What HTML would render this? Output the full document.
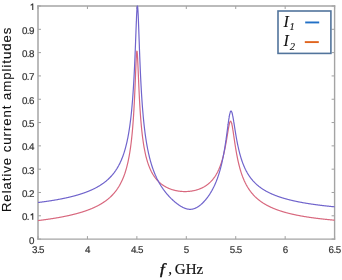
<!DOCTYPE html>
<html><head><meta charset="utf-8"><style>
html,body{margin:0;padding:0;background:#fff;}
body{width:342px;height:280px;overflow:hidden;position:relative;}
svg{position:absolute;left:0;top:0;will-change:transform;filter:blur(0.3px);}
.tk text{text-rendering:geometricPrecision;font-family:"Liberation Sans",sans-serif;font-size:9.8px;fill:#333;letter-spacing:-0.55px;stroke:#333;stroke-width:0.2px;}
</style></head><body>
<svg width="342" height="280" viewBox="0 0 342 280">

<g stroke="#a0a0a0" stroke-width="1"><line x1="38.00" y1="239.1" x2="38.00" y2="236.1"/><line x1="38.00" y1="6.0" x2="38.00" y2="9.0"/><line x1="87.43" y1="239.1" x2="87.43" y2="236.1"/><line x1="87.43" y1="6.0" x2="87.43" y2="9.0"/><line x1="136.87" y1="239.1" x2="136.87" y2="236.1"/><line x1="136.87" y1="6.0" x2="136.87" y2="9.0"/><line x1="186.30" y1="239.1" x2="186.30" y2="236.1"/><line x1="186.30" y1="6.0" x2="186.30" y2="9.0"/><line x1="235.73" y1="239.1" x2="235.73" y2="236.1"/><line x1="235.73" y1="6.0" x2="235.73" y2="9.0"/><line x1="285.17" y1="239.1" x2="285.17" y2="236.1"/><line x1="285.17" y1="6.0" x2="285.17" y2="9.0"/><line x1="334.60" y1="239.1" x2="334.60" y2="236.1"/><line x1="334.60" y1="6.0" x2="334.60" y2="9.0"/><line x1="38.0" y1="239.10" x2="41.0" y2="239.10"/><line x1="334.6" y1="239.10" x2="331.6" y2="239.10"/><line x1="38.0" y1="215.79" x2="41.0" y2="215.79"/><line x1="334.6" y1="215.79" x2="331.6" y2="215.79"/><line x1="38.0" y1="192.48" x2="41.0" y2="192.48"/><line x1="334.6" y1="192.48" x2="331.6" y2="192.48"/><line x1="38.0" y1="169.17" x2="41.0" y2="169.17"/><line x1="334.6" y1="169.17" x2="331.6" y2="169.17"/><line x1="38.0" y1="145.86" x2="41.0" y2="145.86"/><line x1="334.6" y1="145.86" x2="331.6" y2="145.86"/><line x1="38.0" y1="122.55" x2="41.0" y2="122.55"/><line x1="334.6" y1="122.55" x2="331.6" y2="122.55"/><line x1="38.0" y1="99.24" x2="41.0" y2="99.24"/><line x1="334.6" y1="99.24" x2="331.6" y2="99.24"/><line x1="38.0" y1="75.93" x2="41.0" y2="75.93"/><line x1="334.6" y1="75.93" x2="331.6" y2="75.93"/><line x1="38.0" y1="52.62" x2="41.0" y2="52.62"/><line x1="334.6" y1="52.62" x2="331.6" y2="52.62"/><line x1="38.0" y1="29.31" x2="41.0" y2="29.31"/><line x1="334.6" y1="29.31" x2="331.6" y2="29.31"/><line x1="38.0" y1="6.00" x2="41.0" y2="6.00"/><line x1="334.6" y1="6.00" x2="331.6" y2="6.00"/></g>
<g stroke="#a4a4a4" stroke-linecap="square">
<line x1="38.0" y1="6.0" x2="38.0" y2="239.1" stroke-width="1.5"/>
<line x1="38.0" y1="239.1" x2="334.6" y2="239.1" stroke-width="1.25"/>
<line x1="38.0" y1="6.0" x2="334.6" y2="6.0" stroke-width="1.3"/>
<line x1="334.6" y1="6.0" x2="334.6" y2="239.1" stroke-width="1.4"/>
</g>
<g fill="none" stroke-linejoin="round">
<polyline points="38.00,220.57 38.25,220.54 38.49,220.51 38.74,220.48 38.99,220.45 39.24,220.42 39.48,220.39 39.73,220.36 39.98,220.33 40.22,220.29 40.47,220.26 40.72,220.23 40.97,220.20 41.21,220.17 41.46,220.14 41.71,220.11 41.95,220.07 42.20,220.04 42.45,220.01 42.70,219.98 42.94,219.94 43.19,219.91 43.44,219.88 43.68,219.84 43.93,219.81 44.18,219.78 44.43,219.74 44.67,219.71 44.92,219.68 45.17,219.64 45.42,219.61 45.66,219.57 45.91,219.54 46.16,219.51 46.40,219.47 46.65,219.44 46.90,219.40 47.15,219.37 47.39,219.33 47.64,219.29 47.89,219.26 48.13,219.22 48.38,219.19 48.63,219.15 48.88,219.11 49.12,219.08 49.37,219.04 49.62,219.00 49.86,218.97 50.11,218.93 50.36,218.89 50.61,218.86 50.85,218.82 51.10,218.78 51.35,218.74 51.59,218.70 51.84,218.67 52.09,218.63 52.34,218.59 52.58,218.55 52.83,218.51 53.08,218.47 53.32,218.43 53.57,218.39 53.82,218.35 54.07,218.31 54.31,218.27 54.56,218.23 54.81,218.19 55.05,218.15 55.30,218.11 55.55,218.07 55.80,218.03 56.04,217.98 56.29,217.94 56.54,217.90 56.78,217.86 57.03,217.82 57.28,217.77 57.53,217.73 57.77,217.69 58.02,217.64 58.27,217.60 58.51,217.56 58.76,217.51 59.01,217.47 59.26,217.42 59.50,217.38 59.75,217.33 60.00,217.29 60.25,217.24 60.49,217.20 60.74,217.15 60.99,217.11 61.23,217.06 61.48,217.01 61.73,216.97 61.98,216.92 62.22,216.87 62.47,216.82 62.72,216.78 62.96,216.73 63.21,216.68 63.46,216.63 63.71,216.58 63.95,216.53 64.20,216.48 64.45,216.43 64.69,216.38 64.94,216.33 65.19,216.28 65.44,216.23 65.68,216.18 65.93,216.13 66.18,216.08 66.42,216.03 66.67,215.98 66.92,215.92 67.17,215.87 67.41,215.82 67.66,215.76 67.91,215.71 68.15,215.66 68.40,215.60 68.65,215.55 68.90,215.49 69.14,215.44 69.39,215.38 69.64,215.33 69.88,215.27 70.13,215.21 70.38,215.16 70.63,215.10 70.87,215.04 71.12,214.99 71.37,214.93 71.61,214.87 71.86,214.81 72.11,214.75 72.36,214.69 72.60,214.63 72.85,214.57 73.10,214.51 73.34,214.45 73.59,214.39 73.84,214.33 74.09,214.26 74.33,214.20 74.58,214.14 74.83,214.08 75.08,214.01 75.32,213.95 75.57,213.88 75.82,213.82 76.06,213.75 76.31,213.69 76.56,213.62 76.81,213.56 77.05,213.49 77.30,213.42 77.55,213.35 77.79,213.29 78.04,213.22 78.29,213.15 78.54,213.08 78.78,213.01 79.03,212.94 79.28,212.87 79.52,212.80 79.77,212.72 80.02,212.65 80.27,212.58 80.51,212.50 80.76,212.43 81.01,212.36 81.25,212.28 81.50,212.21 81.75,212.13 82.00,212.05 82.24,211.98 82.49,211.90 82.74,211.82 82.98,211.74 83.23,211.66 83.48,211.58 83.73,211.50 83.97,211.42 84.22,211.34 84.47,211.26 84.71,211.18 84.96,211.09 85.21,211.01 85.46,210.92 85.70,210.84 85.95,210.75 86.20,210.67 86.44,210.58 86.69,210.49 86.94,210.40 87.19,210.31 87.43,210.22 87.68,210.13 87.93,210.04 88.17,209.95 88.42,209.86 88.67,209.77 88.92,209.67 89.16,209.58 89.41,209.48 89.66,209.38 89.91,209.29 90.15,209.19 90.40,209.09 90.65,208.99 90.89,208.89 91.14,208.79 91.39,208.69 91.64,208.59 91.88,208.48 92.13,208.38 92.38,208.27 92.62,208.17 92.87,208.06 93.12,207.95 93.37,207.84 93.61,207.73 93.86,207.62 94.11,207.51 94.35,207.40 94.60,207.28 94.85,207.17 95.10,207.05 95.34,206.94 95.59,206.82 95.84,206.70 96.08,206.58 96.33,206.46 96.58,206.33 96.83,206.21 97.07,206.09 97.32,205.96 97.57,205.83 97.81,205.71 98.06,205.58 98.31,205.44 98.56,205.31 98.80,205.18 99.05,205.04 99.30,204.91 99.54,204.77 99.79,204.63 100.04,204.49 100.29,204.35 100.53,204.21 100.78,204.06 101.03,203.92 101.27,203.77 101.52,203.62 101.77,203.47 102.02,203.32 102.26,203.17 102.51,203.01 102.76,202.85 103.00,202.69 103.25,202.53 103.50,202.37 103.75,202.21 103.99,202.04 104.24,201.87 104.49,201.70 104.73,201.53 104.98,201.36 105.23,201.18 105.48,201.00 105.72,200.82 105.97,200.64 106.22,200.46 106.47,200.27 106.71,200.08 106.96,199.89 107.21,199.70 107.45,199.50 107.70,199.31 107.95,199.10 108.20,198.90 108.44,198.70 108.69,198.49 108.94,198.28 109.18,198.06 109.43,197.84 109.68,197.62 109.93,197.40 110.17,197.17 110.42,196.95 110.67,196.71 110.91,196.48 111.16,196.24 111.41,196.00 111.66,195.75 111.90,195.50 112.15,195.25 112.40,194.99 112.64,194.73 112.89,194.47 113.14,194.20 113.39,193.92 113.63,193.65 113.88,193.37 114.13,193.08 114.37,192.79 114.62,192.49 114.87,192.19 115.12,191.89 115.36,191.58 115.61,191.26 115.86,190.94 116.10,190.61 116.35,190.28 116.60,189.94 116.85,189.60 117.09,189.25 117.34,188.89 117.59,188.53 117.83,188.16 118.08,187.78 118.33,187.39 118.58,187.00 118.82,186.60 119.07,186.19 119.32,185.77 119.57,185.35 119.81,184.91 120.06,184.47 120.31,184.01 120.55,183.55 120.80,183.07 121.05,182.59 121.30,182.09 121.54,181.59 121.79,181.07 122.04,180.53 122.28,179.99 122.53,179.43 122.78,178.86 123.03,178.27 123.27,177.67 123.52,177.05 123.77,176.41 124.01,175.76 124.26,175.09 124.51,174.40 124.76,173.69 125.00,172.95 125.25,172.20 125.50,171.42 125.74,170.62 125.99,169.79 126.24,168.94 126.49,168.06 126.73,167.14 126.98,166.20 127.23,165.22 127.47,164.20 127.72,163.15 127.97,162.05 128.22,160.91 128.46,159.73 128.71,158.49 128.96,157.21 129.20,155.86 129.45,154.46 129.70,152.99 129.95,151.45 130.19,149.84 130.44,148.14 130.69,146.35 130.93,144.47 131.18,142.48 131.43,140.38 131.68,138.15 131.92,135.79 131.93,135.69 131.94,135.60 131.95,135.50 131.96,135.40 131.97,135.30 131.98,135.20 131.99,135.10 132.00,135.00 132.01,134.90 132.02,134.80 132.03,134.70 132.04,134.60 132.05,134.50 132.06,134.40 132.07,134.30 132.08,134.20 132.09,134.10 132.10,133.99 132.11,133.89 132.12,133.79 132.13,133.69 132.14,133.58 132.15,133.48 132.16,133.38 132.17,133.28 132.17,133.27 132.18,133.17 132.19,133.07 132.20,132.96 132.21,132.86 132.22,132.75 132.23,132.65 132.24,132.54 132.25,132.44 132.26,132.33 132.27,132.22 132.28,132.12 132.29,132.01 132.30,131.90 132.31,131.79 132.32,131.69 132.33,131.58 132.34,131.47 132.35,131.36 132.36,131.25 132.37,131.14 132.38,131.03 132.39,130.92 132.40,130.81 132.41,130.70 132.42,130.60 132.42,130.59 132.43,130.48 132.44,130.37 132.45,130.26 132.46,130.15 132.47,130.04 132.48,129.92 132.49,129.81 132.50,129.70 132.51,129.58 132.52,129.47 132.53,129.36 132.54,129.24 132.55,129.13 132.56,129.01 132.57,128.90 132.58,128.78 132.59,128.67 132.60,128.55 132.61,128.43 132.62,128.32 132.63,128.20 132.64,128.08 132.65,127.96 132.66,127.85 132.66,127.74 132.67,127.73 132.68,127.61 132.69,127.49 132.70,127.37 132.71,127.25 132.71,127.13 132.72,127.01 132.73,126.89 132.74,126.77 132.75,126.65 132.76,126.53 132.77,126.41 132.78,126.28 132.79,126.16 132.80,126.04 132.81,125.92 132.82,125.79 132.83,125.67 132.84,125.54 132.85,125.42 132.86,125.29 132.87,125.17 132.88,125.04 132.89,124.92 132.90,124.79 132.91,124.68 132.91,124.66 132.92,124.54 132.93,124.41 132.94,124.28 132.95,124.16 132.96,124.03 132.97,123.90 132.98,123.77 132.99,123.64 133.00,123.51 133.01,123.38 133.02,123.25 133.03,123.12 133.04,122.99 133.05,122.85 133.06,122.72 133.07,122.59 133.08,122.46 133.09,122.32 133.10,122.19 133.11,122.06 133.12,121.92 133.13,121.79 133.14,121.65 133.15,121.52 133.16,121.39 133.16,121.38 133.17,121.24 133.18,121.11 133.19,120.97 133.20,120.83 133.21,120.69 133.22,120.56 133.23,120.42 133.24,120.28 133.25,120.14 133.26,120.00 133.27,119.86 133.28,119.72 133.29,119.58 133.30,119.43 133.31,119.29 133.32,119.15 133.33,119.01 133.34,118.86 133.35,118.72 133.36,118.58 133.37,118.43 133.38,118.29 133.39,118.14 133.40,118.00 133.41,117.87 133.41,117.85 133.42,117.70 133.43,117.56 133.44,117.41 133.45,117.26 133.46,117.11 133.47,116.97 133.48,116.82 133.49,116.67 133.50,116.52 133.51,116.37 133.52,116.21 133.53,116.06 133.54,115.91 133.55,115.76 133.56,115.61 133.57,115.45 133.58,115.30 133.59,115.15 133.60,114.99 133.61,114.84 133.62,114.68 133.63,114.52 133.64,114.37 133.65,114.21 133.65,114.08 133.66,114.05 133.66,113.90 133.67,113.74 133.68,113.58 133.69,113.42 133.70,113.26 133.71,113.10 133.72,112.94 133.73,112.78 133.74,112.62 133.75,112.46 133.76,112.29 133.77,112.13 133.78,111.97 133.79,111.80 133.80,111.64 133.81,111.47 133.82,111.31 133.83,111.14 133.84,110.98 133.85,110.81 133.86,110.64 133.87,110.47 133.88,110.31 133.89,110.14 133.90,110.00 133.90,109.97 133.91,109.80 133.92,109.63 133.93,109.46 133.94,109.28 133.95,109.11 133.96,108.94 133.97,108.77 133.98,108.59 133.99,108.42 134.00,108.24 134.01,108.07 134.02,107.89 134.03,107.72 134.04,107.54 134.05,107.36 134.06,107.19 134.07,107.01 134.08,106.83 134.09,106.65 134.10,106.47 134.11,106.29 134.12,106.11 134.13,105.93 134.14,105.75 134.15,105.60 134.15,105.56 134.16,105.38 134.17,105.19 134.18,105.01 134.19,104.83 134.20,104.64 134.21,104.46 134.22,104.27 134.23,104.08 134.24,103.89 134.25,103.71 134.26,103.52 134.27,103.33 134.28,103.14 134.29,102.95 134.30,102.76 134.31,102.57 134.32,102.37 134.33,102.18 134.34,101.99 134.35,101.80 134.36,101.60 134.37,101.41 134.38,101.21 134.39,101.01 134.39,100.86 134.40,100.82 134.41,100.62 134.42,100.42 134.43,100.23 134.44,100.03 134.45,99.83 134.46,99.63 134.47,99.43 134.48,99.23 134.49,99.02 134.50,98.82 134.51,98.62 134.52,98.42 134.53,98.21 134.54,98.01 134.55,97.80 134.56,97.60 134.57,97.39 134.58,97.18 134.59,96.98 134.60,96.77 134.61,96.56 134.61,96.35 134.62,96.14 134.63,95.93 134.64,95.77 134.64,95.72 134.65,95.51 134.66,95.30 134.67,95.09 134.68,94.87 134.69,94.66 134.70,94.44 134.71,94.23 134.72,94.01 134.73,93.80 134.74,93.58 134.75,93.37 134.76,93.15 134.77,92.93 134.78,92.71 134.79,92.49 134.80,92.27 134.81,92.05 134.82,91.83 134.83,91.61 134.84,91.39 134.85,91.17 134.86,90.94 134.87,90.72 134.88,90.50 134.89,90.33 134.89,90.27 134.90,90.05 134.91,89.82 134.92,89.59 134.93,89.37 134.94,89.14 134.95,88.91 134.96,88.68 134.97,88.45 134.98,88.23 134.99,88.00 135.00,87.77 135.01,87.53 135.02,87.30 135.03,87.07 135.04,86.84 135.05,86.61 135.06,86.37 135.07,86.14 135.08,85.91 135.09,85.67 135.10,85.44 135.11,85.20 135.12,84.96 135.13,84.73 135.14,84.56 135.14,84.49 135.15,84.25 135.16,84.02 135.17,83.78 135.18,83.54 135.19,83.30 135.20,83.06 135.21,82.82 135.22,82.58 135.23,82.34 135.24,82.10 135.25,81.86 135.26,81.62 135.27,81.38 135.28,81.13 135.29,80.89 135.30,80.65 135.31,80.41 135.32,80.16 135.33,79.92 135.34,79.68 135.35,79.43 135.36,79.19 135.37,78.94 135.38,78.70 135.38,78.53 135.39,78.45 135.40,78.21 135.41,77.96 135.42,77.72 135.43,77.47 135.44,77.22 135.45,76.98 135.46,76.73 135.47,76.48 135.48,76.24 135.49,75.99 135.50,75.74 135.51,75.50 135.52,75.25 135.53,75.00 135.54,74.76 135.55,74.51 135.56,74.26 135.56,74.02 135.57,73.77 135.58,73.52 135.59,73.27 135.60,73.03 135.61,72.78 135.62,72.54 135.63,72.37 135.63,72.29 135.64,72.04 135.65,71.80 135.66,71.55 135.67,71.31 135.68,71.06 135.69,70.81 135.70,70.57 135.71,70.32 135.72,70.08 135.73,69.84 135.74,69.59 135.75,69.35 135.76,69.11 135.77,68.87 135.78,68.62 135.79,68.38 135.80,68.14 135.81,67.90 135.82,67.66 135.83,67.42 135.84,67.18 135.85,66.94 135.86,66.71 135.87,66.47 135.88,66.32 135.88,66.23 135.89,66.00 135.90,65.76 135.91,65.53 135.92,65.29 135.93,65.06 135.94,64.83 135.95,64.60 135.96,64.37 135.97,64.14 135.98,63.91 135.99,63.69 136.00,63.46 136.01,63.23 136.02,63.01 136.03,62.79 136.04,62.57 136.05,62.35 136.06,62.13 136.07,61.91 136.08,61.69 136.09,61.48 136.10,61.26 136.11,61.05 136.12,60.84 136.13,60.71 136.13,60.63 136.14,60.42 136.15,60.21 136.16,60.01 136.17,59.80 136.18,59.60 136.19,59.40 136.20,59.20 136.21,59.01 136.22,58.81 136.23,58.61 136.24,58.42 136.25,58.23 136.26,58.04 136.27,57.86 136.28,57.67 136.29,57.49 136.30,57.31 136.31,57.13 136.32,56.96 136.33,56.78 136.34,56.61 136.35,56.44 136.36,56.27 136.37,56.10 136.37,56.01 136.38,55.94 136.39,55.78 136.40,55.62 136.41,55.46 136.42,55.31 136.43,55.16 136.44,55.01 136.45,54.86 136.46,54.71 136.47,54.57 136.48,54.43 136.49,54.30 136.50,54.16 136.51,54.03 136.51,53.90 136.52,53.78 136.53,53.65 136.54,53.53 136.55,53.41 136.56,53.30 136.57,53.19 136.58,53.08 136.59,52.97 136.60,52.87 136.61,52.77 136.62,52.71 136.62,52.67 136.63,52.57 136.64,52.48 136.65,52.39 136.66,52.31 136.67,52.22 136.68,52.14 136.69,52.07 136.70,52.00 136.71,51.92 136.72,51.86 136.73,51.79 136.74,51.73 136.75,51.68 136.76,51.62 136.77,51.57 136.78,51.52 136.79,51.48 136.80,51.44 136.81,51.40 136.82,51.36 136.83,51.33 136.84,51.30 136.85,51.28 136.86,51.26 136.87,51.25 136.87,51.24 136.88,51.22 136.89,51.21 136.90,51.20 136.91,51.20 136.92,51.20 136.93,51.20 136.94,51.20 136.95,51.21 136.96,51.22 136.97,51.24 136.98,51.26 136.99,51.28 137.00,51.30 137.01,51.33 137.02,51.36 137.03,51.40 137.04,51.43 137.05,51.47 137.06,51.52 137.07,51.56 137.08,51.61 137.09,51.67 137.10,51.73 137.11,51.79 137.11,51.82 137.12,51.85 137.13,51.91 137.14,51.98 137.15,52.06 137.16,52.13 137.17,52.21 137.18,52.29 137.19,52.37 137.20,52.46 137.21,52.55 137.22,52.65 137.23,52.74 137.24,52.84 137.25,52.94 137.26,53.05 137.27,53.15 137.28,53.26 137.29,53.38 137.30,53.49 137.31,53.61 137.32,53.73 137.33,53.86 137.34,53.98 137.35,54.11 137.36,54.24 137.36,54.31 137.37,54.37 137.38,54.51 137.39,54.65 137.40,54.79 137.41,54.93 137.42,55.08 137.43,55.23 137.44,55.38 137.45,55.53 137.46,55.69 137.46,55.84 137.47,56.00 137.48,56.16 137.49,56.33 137.50,56.49 137.51,56.66 137.52,56.83 137.53,57.00 137.54,57.18 137.55,57.35 137.56,57.53 137.57,57.71 137.58,57.89 137.59,58.07 137.60,58.25 137.61,58.34 137.61,58.44 137.62,58.63 137.63,58.82 137.64,59.01 137.65,59.20 137.66,59.40 137.67,59.59 137.68,59.79 137.69,59.99 137.70,60.19 137.71,60.39 137.72,60.59 137.73,60.79 137.74,61.00 137.75,61.21 137.76,61.41 137.77,61.62 137.78,61.83 137.79,62.04 137.80,62.26 137.81,62.47 137.82,62.68 137.83,62.90 137.84,63.11 137.85,63.33 137.86,63.43 137.86,63.55 137.87,63.77 137.88,63.99 137.89,64.21 137.90,64.43 137.91,64.65 137.92,64.88 137.93,65.10 137.94,65.32 137.95,65.55 137.96,65.78 137.97,66.00 137.98,66.23 137.99,66.46 138.00,66.69 138.01,66.92 138.02,67.14 138.03,67.37 138.04,67.60 138.05,67.83 138.06,68.07 138.07,68.30 138.08,68.53 138.09,68.76 138.10,69.00 138.10,69.10 138.11,69.23 138.12,69.46 138.13,69.70 138.14,69.93 138.15,70.16 138.16,70.40 138.17,70.63 138.18,70.87 138.19,71.10 138.20,71.34 138.21,71.57 138.22,71.81 138.23,72.04 138.24,72.28 138.25,72.51 138.26,72.75 138.27,72.98 138.28,73.22 138.29,73.46 138.30,73.69 138.31,73.93 138.32,74.16 138.33,74.40 138.34,74.63 138.35,74.87 138.35,74.96 138.36,75.10 138.37,75.34 138.38,75.57 138.39,75.81 138.40,76.04 138.41,76.28 138.41,76.51 138.42,76.75 138.43,76.98 138.44,77.21 138.45,77.45 138.46,77.68 138.47,77.91 138.48,78.14 138.49,78.38 138.50,78.61 138.51,78.84 138.52,79.07 138.53,79.31 138.54,79.54 138.55,79.77 138.56,80.00 138.57,80.23 138.58,80.46 138.59,80.69 138.60,80.78 138.60,80.92 138.61,81.15 138.62,81.37 138.63,81.60 138.64,81.83 138.65,82.06 138.66,82.28 138.67,82.51 138.68,82.74 138.69,82.96 138.70,83.19 138.71,83.41 138.72,83.64 138.73,83.86 138.74,84.09 138.75,84.31 138.76,84.53 138.77,84.75 138.78,84.97 138.79,85.20 138.80,85.42 138.81,85.64 138.82,85.86 138.83,86.08 138.84,86.30 138.84,86.38 138.85,86.52 138.86,86.73 138.87,86.95 138.88,87.17 138.89,87.38 138.90,87.60 138.91,87.81 138.92,88.03 138.93,88.24 138.94,88.46 138.95,88.67 138.96,88.89 138.97,89.10 138.98,89.31 138.99,89.52 139.00,89.73 139.01,89.94 139.02,90.15 139.03,90.36 139.04,90.57 139.05,90.78 139.06,90.99 139.07,91.19 139.08,91.40 139.09,91.61 139.09,91.68 139.10,91.81 139.11,92.02 139.12,92.22 139.13,92.43 139.14,92.63 139.15,92.83 139.16,93.04 139.17,93.24 139.18,93.44 139.19,93.64 139.20,93.84 139.21,94.04 139.22,94.24 139.23,94.44 139.24,94.63 139.25,94.83 139.26,95.03 139.27,95.23 139.28,95.42 139.29,95.62 139.30,95.81 139.31,96.00 139.32,96.20 139.33,96.39 139.34,96.58 139.34,96.64 139.35,96.78 139.35,96.97 139.36,97.16 139.37,97.35 139.38,97.54 139.39,97.73 139.40,97.92 139.41,98.10 139.42,98.29 139.43,98.48 139.44,98.66 139.45,98.85 139.46,99.04 139.47,99.22 139.48,99.41 139.49,99.59 139.50,99.77 139.51,99.96 139.52,100.14 139.53,100.32 139.54,100.50 139.55,100.68 139.56,100.86 139.57,101.04 139.58,101.22 139.59,101.27 139.59,101.40 139.60,101.58 139.61,101.75 139.62,101.93 139.63,102.11 139.64,102.28 139.65,102.46 139.66,102.63 139.67,102.81 139.68,102.98 139.69,103.15 139.70,103.33 139.71,103.50 139.72,103.67 139.73,103.84 139.74,104.01 139.75,104.18 139.76,104.35 139.77,104.52 139.78,104.69 139.79,104.86 139.80,105.02 139.81,105.19 139.82,105.36 139.83,105.52 139.83,105.57 139.84,105.69 139.85,105.85 139.86,106.02 139.87,106.18 139.88,106.35 139.89,106.51 139.90,106.67 139.91,106.83 139.92,107.00 139.93,107.16 139.94,107.32 139.95,107.48 139.96,107.64 139.97,107.80 139.98,107.95 139.99,108.11 140.00,108.27 140.01,108.43 140.02,108.58 140.03,108.74 140.04,108.90 140.05,109.05 140.06,109.21 140.07,109.36 140.08,109.51 140.08,109.55 140.09,109.67 140.10,109.82 140.11,109.97 140.12,110.12 140.13,110.28 140.14,110.43 140.15,110.58 140.16,110.73 140.17,110.88 140.18,111.03 140.19,111.18 140.20,111.33 140.21,111.47 140.22,111.62 140.23,111.77 140.24,111.91 140.25,112.06 140.26,112.21 140.27,112.35 140.28,112.50 140.29,112.64 140.30,112.79 140.30,112.93 140.31,113.07 140.32,113.22 140.33,113.25 140.33,113.36 140.34,113.50 140.35,113.64 140.36,113.78 140.37,113.92 140.38,114.06 140.39,114.20 140.40,114.34 140.41,114.48 140.42,114.62 140.43,114.76 140.44,114.90 140.45,115.03 140.46,115.17 140.47,115.31 140.48,115.44 140.49,115.58 140.50,115.72 140.51,115.85 140.52,115.99 140.53,116.12 140.54,116.25 140.55,116.39 140.56,116.52 140.57,116.65 140.57,116.68 140.58,116.78 140.59,116.92 140.60,117.05 140.61,117.18 140.62,117.31 140.63,117.44 140.64,117.57 140.65,117.70 140.66,117.83 140.67,117.96 140.68,118.09 140.69,118.21 140.70,118.34 140.71,118.47 140.72,118.60 140.73,118.72 140.74,118.85 140.75,118.97 140.76,119.10 140.77,119.23 140.78,119.35 140.79,119.48 140.80,119.60 140.81,119.72 140.82,119.85 140.82,119.87 140.83,119.97 140.84,120.09 140.85,120.21 140.86,120.34 140.87,120.46 140.88,120.58 140.89,120.70 140.90,120.82 140.91,120.94 140.92,121.06 140.93,121.18 140.94,121.30 140.95,121.42 140.96,121.54 140.97,121.65 140.98,121.77 140.99,121.89 141.00,122.01 141.01,122.13 141.02,122.24 141.03,122.36 141.04,122.47 141.05,122.59 141.06,122.70 141.07,122.82 141.07,122.84 141.08,122.93 141.09,123.05 141.10,123.16 141.11,123.28 141.12,123.39 141.13,123.50 141.14,123.62 141.15,123.73 141.16,123.84 141.17,123.95 141.18,124.06 141.19,124.17 141.20,124.28 141.21,124.40 141.22,124.51 141.23,124.62 141.24,124.73 141.25,124.84 141.25,124.94 141.26,125.05 141.27,125.16 141.28,125.27 141.29,125.38 141.30,125.49 141.31,125.59 141.32,125.61 141.32,125.70 141.33,125.81 141.34,125.91 141.35,126.02 141.36,126.13 141.37,126.23 141.38,126.34 141.39,126.44 141.40,126.55 141.41,126.65 141.42,126.75 141.43,126.86 141.44,126.96 141.45,127.07 141.46,127.17 141.47,127.27 141.48,127.37 141.49,127.48 141.50,127.58 141.51,127.68 141.52,127.78 141.53,127.88 141.54,127.98 141.55,128.08 141.56,128.18 141.56,128.20 141.57,128.28 141.58,128.38 141.59,128.48 141.60,128.58 141.61,128.68 141.62,128.78 141.63,128.88 141.64,128.98 141.65,129.08 141.66,129.17 141.67,129.27 141.68,129.37 141.69,129.47 141.70,129.56 141.71,129.66 141.72,129.76 141.73,129.85 141.74,129.95 141.75,130.04 141.76,130.14 141.77,130.23 141.78,130.33 141.79,130.42 141.80,130.52 141.81,130.61 141.81,130.62 141.82,130.70 141.83,130.80 141.84,130.89 141.85,130.98 141.86,131.08 141.87,131.17 141.88,131.26 141.89,131.36 141.90,131.45 141.91,131.54 141.92,131.63 141.93,131.72 141.94,131.81 141.95,131.90 141.96,131.99 141.97,132.08 141.98,132.17 141.99,132.26 142.00,132.35 142.01,132.44 142.02,132.53 142.03,132.62 142.04,132.71 142.05,132.80 142.06,132.89 142.06,132.89 142.07,132.98 142.08,133.06 142.09,133.15 142.10,133.24 142.11,133.33 142.12,133.41 142.13,133.50 142.14,133.59 142.15,133.67 142.16,133.76 142.17,133.85 142.18,133.93 142.19,134.02 142.19,134.10 142.20,134.19 142.21,134.27 142.22,134.36 142.23,134.44 142.24,134.53 142.25,134.61 142.26,134.69 142.27,134.78 142.28,134.86 142.29,134.94 142.30,135.03 142.30,135.03 142.31,135.11 142.32,135.19 142.33,135.28 142.34,135.36 142.35,135.44 142.36,135.52 142.37,135.60 142.38,135.69 142.39,135.77 142.40,135.85 142.41,135.93 142.42,136.01 142.43,136.09 142.44,136.17 142.45,136.25 142.46,136.33 142.47,136.41 142.48,136.49 142.49,136.57 142.50,136.65 142.51,136.73 142.52,136.81 142.53,136.89 142.54,136.96 142.55,137.04 142.55,137.04 142.56,137.12 142.57,137.20 142.58,137.28 142.59,137.35 142.60,137.43 142.61,137.51 142.62,137.59 142.63,137.66 142.64,137.74 142.65,137.82 142.66,137.89 142.67,137.97 142.68,138.04 142.69,138.12 142.70,138.20 142.71,138.27 142.72,138.35 142.73,138.42 142.74,138.50 142.75,138.57 142.76,138.65 142.77,138.72 142.78,138.80 142.79,138.87 142.80,138.94 143.05,140.74 143.29,142.44 143.54,144.05 143.79,145.58 144.03,147.03 144.28,148.41 144.53,149.73 144.78,150.99 145.02,152.20 145.27,153.35 145.52,154.45 145.76,155.51 146.01,156.52 146.26,157.49 146.51,158.43 146.75,159.33 147.00,160.20 147.25,161.03 147.49,161.84 147.74,162.62 147.99,163.37 148.24,164.09 148.48,164.79 148.73,165.47 148.98,166.13 149.23,166.77 149.47,167.38 149.72,167.98 149.97,168.56 150.21,169.12 150.46,169.67 150.71,170.20 150.96,170.71 151.20,171.22 151.45,171.70 151.70,172.18 151.94,172.64 152.19,173.09 152.44,173.53 152.69,173.95 152.93,174.37 153.18,174.77 153.43,175.17 153.67,175.55 153.92,175.93 154.17,176.29 154.42,176.65 154.66,177.00 154.91,177.34 155.16,177.67 155.40,178.00 155.65,178.32 155.90,178.63 156.15,178.93 156.39,179.23 156.64,179.52 156.89,179.80 157.13,180.08 157.38,180.35 157.63,180.62 157.88,180.88 158.12,181.13 158.37,181.38 158.62,181.63 158.86,181.86 159.11,182.10 159.36,182.33 159.61,182.55 159.85,182.77 160.10,182.99 160.35,183.20 160.59,183.41 160.84,183.61 161.09,183.81 161.34,184.00 161.58,184.19 161.83,184.38 162.08,184.56 162.32,184.74 162.57,184.92 162.82,185.09 163.07,185.26 163.31,185.43 163.56,185.59 163.81,185.75 164.06,185.91 164.30,186.06 164.55,186.21 164.80,186.36 165.04,186.50 165.29,186.64 165.54,186.78 165.79,186.92 166.03,187.05 166.28,187.18 166.53,187.31 166.77,187.44 167.02,187.56 167.27,187.68 167.52,187.80 167.76,187.92 168.01,188.03 168.26,188.14 168.50,188.25 168.75,188.36 169.00,188.46 169.25,188.56 169.49,188.67 169.74,188.76 169.99,188.86 170.23,188.95 170.48,189.05 170.73,189.14 170.98,189.22 171.22,189.31 171.47,189.40 171.72,189.48 171.96,189.56 172.21,189.64 172.46,189.71 172.71,189.79 172.95,189.86 173.20,189.93 173.45,190.00 173.69,190.07 173.94,190.14 174.19,190.20 174.44,190.27 174.68,190.33 174.93,190.39 175.18,190.45 175.42,190.50 175.67,190.56 175.92,190.61 176.17,190.66 176.41,190.71 176.66,190.76 176.91,190.81 177.15,190.86 177.40,190.90 177.65,190.94 177.90,190.98 178.14,191.02 178.39,191.06 178.64,191.10 178.88,191.13 179.13,191.17 179.38,191.20 179.63,191.23 179.87,191.26 180.12,191.29 180.37,191.31 180.62,191.34 180.86,191.36 181.11,191.39 181.36,191.41 181.60,191.43 181.85,191.45 182.10,191.46 182.35,191.48 182.59,191.49 182.84,191.50 183.09,191.52 183.33,191.53 183.58,191.53 183.83,191.54 184.08,191.55 184.32,191.55 184.57,191.56 184.82,191.56 185.06,191.56 185.31,191.56 185.56,191.55 185.81,191.55 186.05,191.55 186.30,191.54 186.55,191.53 186.79,191.52 187.04,191.51 187.29,191.50 187.54,191.49 187.78,191.47 188.03,191.46 188.28,191.44 188.52,191.42 188.77,191.40 189.02,191.38 189.27,191.35 189.51,191.33 189.76,191.30 190.01,191.27 190.25,191.25 190.50,191.21 190.75,191.18 191.00,191.15 191.24,191.11 191.49,191.08 191.74,191.04 191.98,191.00 192.23,190.96 192.48,190.92 192.73,190.87 192.97,190.83 193.22,190.78 193.47,190.73 193.72,190.68 193.96,190.63 194.21,190.57 194.46,190.52 194.70,190.46 194.95,190.40 195.20,190.34 195.45,190.28 195.69,190.21 195.94,190.15 196.19,190.08 196.43,190.01 196.68,189.94 196.93,189.87 197.18,189.79 197.42,189.71 197.67,189.63 197.92,189.55 198.16,189.47 198.41,189.39 198.66,189.30 198.91,189.21 199.15,189.12 199.40,189.03 199.65,188.93 199.89,188.83 200.14,188.73 200.39,188.63 200.64,188.53 200.88,188.42 201.13,188.31 201.38,188.20 201.62,188.09 201.87,187.97 202.12,187.85 202.37,187.73 202.61,187.61 202.86,187.48 203.11,187.35 203.35,187.22 203.60,187.09 203.85,186.95 204.10,186.81 204.34,186.66 204.59,186.52 204.84,186.37 205.08,186.22 205.33,186.06 205.58,185.90 205.83,185.74 206.07,185.57 206.32,185.40 206.57,185.23 206.81,185.06 207.06,184.88 207.31,184.69 207.56,184.50 207.80,184.31 208.05,184.12 208.30,183.92 208.54,183.71 208.79,183.50 209.04,183.29 209.29,183.07 209.53,182.85 209.78,182.62 210.03,182.39 210.28,182.16 210.52,181.91 210.77,181.67 211.02,181.41 211.26,181.15 211.51,180.89 211.76,180.62 212.01,180.34 212.25,180.06 212.50,179.77 212.75,179.48 212.99,179.17 213.24,178.86 213.49,178.55 213.74,178.22 213.98,177.89 214.23,177.55 214.48,177.20 214.72,176.84 214.97,176.48 215.22,176.10 215.47,175.72 215.71,175.33 215.96,174.92 216.21,174.51 216.45,174.08 216.70,173.65 216.95,173.20 217.20,172.74 217.44,172.27 217.69,171.78 217.94,171.28 218.18,170.77 218.43,170.24 218.68,169.70 218.93,169.15 219.17,168.57 219.42,167.98 219.67,167.37 219.91,166.75 220.16,166.10 220.41,165.44 220.66,164.75 220.90,164.05 221.15,163.32 221.40,162.57 221.64,161.79 221.89,160.99 222.14,160.16 222.39,159.31 222.63,158.42 222.88,157.51 223.13,156.57 223.38,155.59 223.62,154.58 223.87,153.54 224.12,152.47 224.36,151.35 224.61,150.20 224.86,149.01 225.11,147.79 225.35,146.53 225.60,145.22 225.85,143.88 225.87,143.78 225.89,143.67 225.91,143.56 225.93,143.45 225.95,143.34 225.97,143.23 225.99,143.12 226.01,143.01 226.03,142.90 226.04,142.79 226.06,142.67 226.08,142.56 226.09,142.51 226.10,142.45 226.12,142.34 226.14,142.23 226.16,142.12 226.18,142.00 226.20,141.89 226.22,141.78 226.24,141.66 226.26,141.55 226.28,141.44 226.30,141.32 226.32,141.21 226.34,141.10 226.34,141.09 226.36,140.98 226.38,140.87 226.40,140.75 226.42,140.64 226.44,140.52 226.46,140.41 226.48,140.29 226.50,140.17 226.52,140.06 226.54,139.94 226.56,139.83 226.58,139.71 226.59,139.66 226.60,139.59 226.62,139.48 226.64,139.36 226.66,139.24 226.68,139.13 226.70,139.01 226.72,138.89 226.74,138.77 226.76,138.65 226.78,138.54 226.80,138.42 226.82,138.30 226.84,138.19 226.84,138.18 226.86,138.06 226.88,137.94 226.90,137.82 226.92,137.71 226.94,137.59 226.96,137.47 226.98,137.35 227.00,137.23 227.02,137.11 227.04,136.99 227.06,136.87 227.08,136.75 227.08,136.70 227.09,136.63 227.11,136.51 227.13,136.39 227.15,136.27 227.17,136.15 227.19,136.03 227.21,135.91 227.23,135.79 227.25,135.67 227.27,135.54 227.29,135.42 227.31,135.30 227.33,135.20 227.33,135.18 227.35,135.06 227.37,134.94 227.39,134.82 227.41,134.70 227.43,134.58 227.45,134.46 227.47,134.33 227.49,134.21 227.51,134.09 227.53,133.97 227.55,133.85 227.57,133.73 227.58,133.69 227.59,133.61 227.61,133.49 227.63,133.37 227.65,133.25 227.67,133.13 227.69,133.00 227.71,132.88 227.73,132.76 227.75,132.64 227.77,132.52 227.79,132.40 227.81,132.28 227.82,132.19 227.83,132.16 227.85,132.04 227.87,131.92 227.89,131.80 227.91,131.68 227.93,131.56 227.95,131.44 227.97,131.32 227.99,131.21 228.01,131.09 228.03,130.97 228.05,130.85 228.07,130.73 228.07,130.70 228.09,130.61 228.11,130.50 228.13,130.38 228.14,130.26 228.16,130.14 228.18,130.03 228.20,129.91 228.22,129.79 228.24,129.68 228.26,129.56 228.28,129.45 228.30,129.33 228.32,129.25 228.32,129.22 228.34,129.10 228.36,128.99 228.38,128.88 228.40,128.76 228.42,128.65 228.44,128.54 228.46,128.42 228.48,128.31 228.50,128.20 228.52,128.09 228.54,127.98 228.56,127.87 228.57,127.85 228.58,127.76 228.60,127.65 228.62,127.54 228.64,127.43 228.66,127.33 228.68,127.22 228.70,127.11 228.72,127.01 228.74,126.90 228.76,126.80 228.78,126.69 228.80,126.59 228.81,126.52 228.82,126.49 228.84,126.38 228.86,126.28 228.88,126.18 228.90,126.08 228.92,125.98 228.94,125.88 228.96,125.78 228.98,125.69 229.00,125.59 229.02,125.49 229.04,125.40 229.06,125.30 229.06,125.28 229.08,125.21 229.10,125.11 229.12,125.02 229.14,124.93 229.16,124.84 229.18,124.75 229.20,124.66 229.21,124.57 229.23,124.48 229.25,124.40 229.27,124.31 229.29,124.23 229.31,124.17 229.31,124.14 229.33,124.06 229.35,123.98 229.37,123.90 229.39,123.82 229.41,123.74 229.43,123.66 229.45,123.58 229.47,123.51 229.49,123.43 229.51,123.36 229.53,123.28 229.55,123.21 229.55,123.20 229.57,123.14 229.59,123.07 229.61,123.00 229.63,122.94 229.65,122.87 229.67,122.80 229.69,122.74 229.71,122.68 229.73,122.62 229.75,122.56 229.77,122.50 229.79,122.44 229.80,122.40 229.81,122.38 229.83,122.33 229.85,122.27 229.87,122.22 229.89,122.17 229.91,122.12 229.93,122.07 229.95,122.02 229.97,121.97 229.99,121.93 230.01,121.88 230.03,121.84 230.05,121.80 230.05,121.80 230.07,121.76 230.09,121.72 230.11,121.68 230.13,121.65 230.15,121.61 230.17,121.58 230.19,121.55 230.21,121.52 230.23,121.49 230.25,121.46 230.26,121.44 230.28,121.41 230.30,121.40 230.30,121.39 230.32,121.37 230.34,121.35 230.36,121.33 230.38,121.31 230.40,121.30 230.42,121.28 230.44,121.27 230.46,121.26 230.48,121.25 230.50,121.24 230.52,121.23 230.54,121.23 230.54,121.23 230.56,121.22 230.58,121.22 230.60,121.22 230.62,121.22 230.64,121.22 230.66,121.23 230.68,121.23 230.70,121.24 230.72,121.25 230.74,121.26 230.76,121.27 230.78,121.28 230.79,121.29 230.80,121.29 230.82,121.31 230.84,121.33 230.86,121.35 230.88,121.37 230.90,121.39 230.92,121.41 230.94,121.44 230.96,121.46 230.98,121.49 231.00,121.52 231.02,121.55 231.04,121.58 231.04,121.58 231.06,121.62 231.08,121.65 231.10,121.69 231.12,121.73 231.14,121.77 231.16,121.81 231.18,121.85 231.20,121.89 231.22,121.94 231.24,121.99 231.26,122.03 231.28,122.08 231.28,122.11 231.30,122.13 231.32,122.19 231.33,122.24 231.35,122.30 231.37,122.35 231.39,122.41 231.41,122.47 231.43,122.53 231.45,122.59 231.47,122.65 231.49,122.72 231.51,122.78 231.53,122.85 231.53,122.85 231.55,122.92 231.57,122.99 231.59,123.06 231.61,123.13 231.63,123.21 231.65,123.28 231.67,123.36 231.69,123.43 231.71,123.51 231.73,123.59 231.75,123.67 231.77,123.75 231.78,123.79 231.79,123.84 231.81,123.92 231.83,124.01 231.85,124.09 231.87,124.18 231.89,124.27 231.91,124.36 231.93,124.45 231.95,124.54 231.97,124.63 231.99,124.73 232.01,124.82 232.03,124.91 232.03,124.92 232.05,125.01 232.07,125.11 232.09,125.21 232.11,125.31 232.13,125.41 232.15,125.51 232.17,125.62 232.19,125.72 232.21,125.82 232.23,125.93 232.25,126.03 232.27,126.14 232.27,126.18 232.29,126.25 232.31,126.36 232.33,126.47 232.35,126.58 232.37,126.69 232.38,126.80 232.40,126.91 232.42,127.02 232.44,127.14 232.46,127.25 232.48,127.37 232.50,127.48 232.52,127.58 232.52,127.60 232.54,127.72 232.56,127.84 232.58,127.95 232.60,128.07 232.62,128.19 232.64,128.31 232.66,128.43 232.68,128.56 232.70,128.68 232.72,128.80 232.74,128.92 232.76,129.05 232.77,129.08 232.78,129.17 232.80,129.30 232.82,129.42 232.84,129.55 232.86,129.67 232.88,129.80 232.90,129.93 232.92,130.05 232.94,130.18 232.96,130.31 232.98,130.44 233.00,130.57 233.01,130.67 233.02,130.70 233.04,130.83 233.06,130.96 233.08,131.09 233.10,131.22 233.12,131.35 233.14,131.48 233.16,131.61 233.18,131.75 233.20,131.88 233.22,132.01 233.24,132.14 233.26,132.28 233.26,132.31 233.28,132.41 233.30,132.54 233.32,132.68 233.34,132.81 233.36,132.95 233.38,133.08 233.40,133.21 233.42,133.35 233.44,133.48 233.45,133.62 233.47,133.75 233.49,133.89 233.51,133.99 233.51,134.03 233.53,134.16 233.55,134.30 233.57,134.43 233.59,134.57 233.61,134.70 233.63,134.84 233.65,134.98 233.67,135.11 233.69,135.25 233.71,135.39 233.73,135.52 233.75,135.66 233.76,135.69 233.77,135.80 233.79,135.93 233.81,136.07 233.83,136.21 233.85,136.34 233.87,136.48 233.89,136.62 233.91,136.75 233.93,136.89 233.95,137.03 233.97,137.16 233.99,137.30 234.00,137.39 234.01,137.43 234.03,137.57 234.05,137.71 234.07,137.84 234.09,137.98 234.11,138.12 234.13,138.25 234.15,138.39 234.17,138.52 234.19,138.66 234.21,138.80 234.23,138.93 234.25,139.07 234.25,139.09 234.27,139.20 234.29,139.34 234.31,139.47 234.33,139.61 234.35,139.74 234.37,139.88 234.39,140.01 234.41,140.15 234.43,140.28 234.45,140.42 234.47,140.55 234.49,140.69 234.50,140.77 234.50,140.82 234.52,140.95 234.54,141.09 234.56,141.22 234.58,141.35 234.60,141.49 234.62,141.62 234.64,141.75 234.66,141.89 234.68,142.02 234.70,142.15 234.72,142.28 234.74,142.41 234.74,142.43 234.76,142.55 234.78,142.68 234.80,142.81 234.82,142.94 234.84,143.07 234.86,143.20 234.88,143.33 234.90,143.46 234.92,143.59 234.94,143.72 234.96,143.85 234.98,143.98 234.99,144.06 235.00,144.11 235.02,144.24 235.04,144.37 235.06,144.50 235.08,144.62 235.10,144.75 235.12,144.88 235.14,145.01 235.16,145.14 235.18,145.26 235.20,145.39 235.22,145.52 235.24,145.64 235.24,145.65 235.26,145.77 235.28,145.89 235.30,146.02 235.32,146.15 235.34,146.27 235.36,146.40 235.38,146.52 235.40,146.64 235.42,146.77 235.44,146.89 235.46,147.02 235.48,147.14 235.49,147.20 235.50,147.26 235.52,147.39 235.54,147.51 235.55,147.63 235.57,147.75 235.59,147.87 235.61,148.00 235.63,148.12 235.65,148.24 235.67,148.36 235.69,148.48 235.71,148.60 235.73,148.72 235.98,150.19 236.23,151.63 236.47,153.02 236.72,154.36 236.97,155.67 237.22,156.94 237.46,158.16 237.71,159.35 237.96,160.50 238.21,161.61 238.45,162.69 238.70,163.74 238.95,164.75 239.19,165.73 239.44,166.68 239.69,167.60 239.94,168.50 240.18,169.37 240.43,170.21 240.68,171.03 240.92,171.83 241.17,172.60 241.42,173.35 241.67,174.08 241.91,174.79 242.16,175.49 242.41,176.16 242.65,176.82 242.90,177.46 243.15,178.08 243.40,178.69 243.64,179.28 243.89,179.86 244.14,180.42 244.38,180.97 244.63,181.51 244.88,182.04 245.13,182.55 245.37,183.05 245.62,183.54 245.87,184.02 246.11,184.49 246.36,184.95 246.61,185.40 246.86,185.84 247.10,186.28 247.35,186.70 247.60,187.11 247.84,187.52 248.09,187.91 248.34,188.30 248.59,188.69 248.83,189.06 249.08,189.43 249.33,189.79 249.57,190.15 249.82,190.49 250.07,190.83 250.32,191.17 250.56,191.50 250.81,191.82 251.06,192.14 251.30,192.45 251.55,192.76 251.80,193.06 252.05,193.36 252.29,193.65 252.54,193.94 252.79,194.22 253.03,194.50 253.28,194.78 253.53,195.05 253.78,195.31 254.02,195.57 254.27,195.83 254.52,196.08 254.77,196.33 255.01,196.58 255.26,196.82 255.51,197.06 255.75,197.29 256.00,197.53 256.25,197.75 256.50,197.98 256.74,198.20 256.99,198.42 257.24,198.64 257.48,198.85 257.73,199.06 257.98,199.27 258.23,199.47 258.47,199.67 258.72,199.87 258.97,200.07 259.21,200.26 259.46,200.45 259.71,200.64 259.96,200.83 260.20,201.01 260.45,201.20 260.70,201.38 260.94,201.55 261.19,201.73 261.44,201.90 261.69,202.07 261.93,202.24 262.18,202.41 262.43,202.57 262.67,202.74 262.92,202.90 263.17,203.06 263.42,203.21 263.66,203.37 263.91,203.52 264.16,203.67 264.40,203.82 264.65,203.97 264.90,204.12 265.15,204.27 265.39,204.41 265.64,204.55 265.89,204.69 266.13,204.83 266.38,204.97 266.63,205.11 266.88,205.24 267.12,205.37 267.37,205.51 267.62,205.64 267.87,205.76 268.11,205.89 268.36,206.02 268.61,206.14 268.85,206.27 269.10,206.39 269.35,206.51 269.60,206.63 269.84,206.75 270.09,206.87 270.34,206.99 270.58,207.10 270.83,207.22 271.08,207.33 271.33,207.44 271.57,207.55 271.82,207.66 272.07,207.77 272.31,207.88 272.56,207.99 272.81,208.09 273.06,208.20 273.30,208.30 273.55,208.41 273.80,208.51 274.04,208.61 274.29,208.71 274.54,208.81 274.79,208.91 275.03,209.01 275.28,209.10 275.53,209.20 275.77,209.29 276.02,209.39 276.27,209.48 276.52,209.57 276.76,209.67 277.01,209.76 277.26,209.85 277.50,209.94 277.75,210.02 278.00,210.11 278.25,210.20 278.49,210.29 278.74,210.37 278.99,210.46 279.23,210.54 279.48,210.62 279.73,210.71 279.98,210.79 280.22,210.87 280.47,210.95 280.72,211.03 280.96,211.11 281.21,211.19 281.46,211.27 281.71,211.35 281.95,211.42 282.20,211.50 282.45,211.58 282.69,211.65 282.94,211.73 283.19,211.80 283.44,211.87 283.68,211.95 283.93,212.02 284.18,212.09 284.43,212.16 284.67,212.23 284.92,212.30 285.17,212.37 285.41,212.44 285.66,212.51 285.91,212.58 286.16,212.65 286.40,212.71 286.65,212.78 286.90,212.84 287.14,212.91 287.39,212.98 287.64,213.04 287.89,213.10 288.13,213.17 288.38,213.23 288.63,213.29 288.87,213.36 289.12,213.42 289.37,213.48 289.62,213.54 289.86,213.60 290.11,213.66 290.36,213.72 290.60,213.78 290.85,213.84 291.10,213.90 291.35,213.96 291.59,214.01 291.84,214.07 292.09,214.13 292.33,214.18 292.58,214.24 292.83,214.30 293.08,214.35 293.32,214.41 293.57,214.46 293.82,214.51 294.06,214.57 294.31,214.62 294.56,214.67 294.81,214.73 295.05,214.78 295.30,214.83 295.55,214.88 295.79,214.93 296.04,214.99 296.29,215.04 296.54,215.09 296.78,215.14 297.03,215.19 297.28,215.24 297.53,215.28 297.77,215.33 298.02,215.38 298.27,215.43 298.51,215.48 298.76,215.53 299.01,215.57 299.26,215.62 299.50,215.67 299.75,215.71 300.00,215.76 300.24,215.80 300.49,215.85 300.74,215.89 300.99,215.94 301.23,215.98 301.48,216.03 301.73,216.07 301.97,216.12 302.22,216.16 302.47,216.20 302.72,216.25 302.96,216.29 303.21,216.33 303.46,216.37 303.70,216.41 303.95,216.46 304.20,216.50 304.45,216.54 304.69,216.58 304.94,216.62 305.19,216.66 305.43,216.70 305.68,216.74 305.93,216.78 306.18,216.82 306.42,216.86 306.67,216.90 306.92,216.94 307.16,216.98 307.41,217.01 307.66,217.05 307.91,217.09 308.15,217.13 308.40,217.17 308.65,217.20 308.89,217.24 309.14,217.28 309.39,217.31 309.64,217.35 309.88,217.39 310.13,217.42 310.38,217.46 310.62,217.49 310.87,217.53 311.12,217.56 311.37,217.60 311.61,217.63 311.86,217.67 312.11,217.70 312.36,217.74 312.60,217.77 312.85,217.80 313.10,217.84 313.34,217.87 313.59,217.91 313.84,217.94 314.09,217.97 314.33,218.00 314.58,218.04 314.83,218.07 315.07,218.10 315.32,218.13 315.57,218.17 315.82,218.20 316.06,218.23 316.31,218.26 316.56,218.29 316.80,218.32 317.05,218.35 317.30,218.38 317.55,218.41 317.79,218.44 318.04,218.47 318.29,218.50 318.53,218.53 318.78,218.56 319.03,218.59 319.28,218.62 319.52,218.65 319.77,218.68 320.02,218.71 320.26,218.74 320.51,218.77 320.76,218.80 321.01,218.82 321.25,218.85 321.50,218.88 321.75,218.91 321.99,218.94 322.24,218.96 322.49,218.99 322.74,219.02 322.98,219.05 323.23,219.07 323.48,219.10 323.72,219.13 323.97,219.15 324.22,219.18 324.47,219.21 324.71,219.23 324.96,219.26 325.21,219.29 325.45,219.31 325.70,219.34 325.95,219.36 326.20,219.39 326.44,219.41 326.69,219.44 326.94,219.46 327.19,219.49 327.43,219.51 327.68,219.54 327.93,219.56 328.17,219.59 328.42,219.61 328.67,219.64 328.92,219.66 329.16,219.69 329.41,219.71 329.66,219.73 329.90,219.76 330.15,219.78 330.40,219.80 330.65,219.83 330.89,219.85 331.14,219.87 331.39,219.90 331.63,219.92 331.88,219.94 332.13,219.97 332.38,219.99 332.62,220.01 332.87,220.03 333.12,220.06 333.36,220.08 333.61,220.10 333.86,220.12 334.11,220.14 334.35,220.17 334.60,220.19" stroke="#d8687e" stroke-width="1.2"/>
<polyline points="38.00,202.52 38.25,202.48 38.49,202.45 38.74,202.42 38.99,202.39 39.24,202.36 39.48,202.33 39.73,202.30 39.98,202.27 40.22,202.23 40.47,202.20 40.72,202.17 40.97,202.14 41.21,202.10 41.46,202.07 41.71,202.04 41.95,202.01 42.20,201.97 42.45,201.94 42.70,201.91 42.94,201.87 43.19,201.84 43.44,201.81 43.68,201.77 43.93,201.74 44.18,201.70 44.43,201.67 44.67,201.63 44.92,201.60 45.17,201.56 45.42,201.53 45.66,201.49 45.91,201.46 46.16,201.42 46.40,201.39 46.65,201.35 46.90,201.32 47.15,201.28 47.39,201.24 47.64,201.21 47.89,201.17 48.13,201.13 48.38,201.10 48.63,201.06 48.88,201.02 49.12,200.98 49.37,200.95 49.62,200.91 49.86,200.87 50.11,200.83 50.36,200.79 50.61,200.75 50.85,200.72 51.10,200.68 51.35,200.64 51.59,200.60 51.84,200.56 52.09,200.52 52.34,200.48 52.58,200.44 52.83,200.40 53.08,200.36 53.32,200.32 53.57,200.27 53.82,200.23 54.07,200.19 54.31,200.15 54.56,200.11 54.81,200.07 55.05,200.02 55.30,199.98 55.55,199.94 55.80,199.89 56.04,199.85 56.29,199.81 56.54,199.76 56.78,199.72 57.03,199.68 57.28,199.63 57.53,199.59 57.77,199.54 58.02,199.50 58.27,199.45 58.51,199.41 58.76,199.36 59.01,199.31 59.26,199.27 59.50,199.22 59.75,199.18 60.00,199.13 60.25,199.08 60.49,199.03 60.74,198.99 60.99,198.94 61.23,198.89 61.48,198.84 61.73,198.79 61.98,198.74 62.22,198.69 62.47,198.64 62.72,198.59 62.96,198.54 63.21,198.49 63.46,198.44 63.71,198.39 63.95,198.34 64.20,198.29 64.45,198.24 64.69,198.18 64.94,198.13 65.19,198.08 65.44,198.03 65.68,197.97 65.93,197.92 66.18,197.86 66.42,197.81 66.67,197.76 66.92,197.70 67.17,197.65 67.41,197.59 67.66,197.53 67.91,197.48 68.15,197.42 68.40,197.36 68.65,197.31 68.90,197.25 69.14,197.19 69.39,197.13 69.64,197.07 69.88,197.02 70.13,196.96 70.38,196.90 70.63,196.84 70.87,196.78 71.12,196.71 71.37,196.65 71.61,196.59 71.86,196.53 72.11,196.47 72.36,196.40 72.60,196.34 72.85,196.28 73.10,196.21 73.34,196.15 73.59,196.08 73.84,196.02 74.09,195.95 74.33,195.89 74.58,195.82 74.83,195.75 75.08,195.69 75.32,195.62 75.57,195.55 75.82,195.48 76.06,195.41 76.31,195.34 76.56,195.27 76.81,195.20 77.05,195.13 77.30,195.06 77.55,194.99 77.79,194.92 78.04,194.84 78.29,194.77 78.54,194.70 78.78,194.62 79.03,194.55 79.28,194.47 79.52,194.39 79.77,194.32 80.02,194.24 80.27,194.16 80.51,194.08 80.76,194.01 81.01,193.93 81.25,193.85 81.50,193.77 81.75,193.69 82.00,193.60 82.24,193.52 82.49,193.44 82.74,193.35 82.98,193.27 83.23,193.19 83.48,193.10 83.73,193.01 83.97,192.93 84.22,192.84 84.47,192.75 84.71,192.66 84.96,192.58 85.21,192.49 85.46,192.39 85.70,192.30 85.95,192.21 86.20,192.12 86.44,192.02 86.69,191.93 86.94,191.84 87.19,191.74 87.43,191.64 87.68,191.55 87.93,191.45 88.17,191.35 88.42,191.25 88.67,191.15 88.92,191.05 89.16,190.95 89.41,190.84 89.66,190.74 89.91,190.63 90.15,190.53 90.40,190.42 90.65,190.31 90.89,190.21 91.14,190.10 91.39,189.99 91.64,189.88 91.88,189.76 92.13,189.65 92.38,189.54 92.62,189.42 92.87,189.30 93.12,189.19 93.37,189.07 93.61,188.95 93.86,188.83 94.11,188.71 94.35,188.59 94.60,188.46 94.85,188.34 95.10,188.21 95.34,188.08 95.59,187.95 95.84,187.83 96.08,187.69 96.33,187.56 96.58,187.43 96.83,187.29 97.07,187.16 97.32,187.02 97.57,186.88 97.81,186.74 98.06,186.60 98.31,186.46 98.56,186.31 98.80,186.17 99.05,186.02 99.30,185.87 99.54,185.72 99.79,185.57 100.04,185.41 100.29,185.26 100.53,185.10 100.78,184.94 101.03,184.78 101.27,184.62 101.52,184.46 101.77,184.29 102.02,184.12 102.26,183.95 102.51,183.78 102.76,183.61 103.00,183.43 103.25,183.26 103.50,183.08 103.75,182.90 103.99,182.71 104.24,182.53 104.49,182.34 104.73,182.15 104.98,181.96 105.23,181.76 105.48,181.56 105.72,181.36 105.97,181.16 106.22,180.96 106.47,180.75 106.71,180.54 106.96,180.33 107.21,180.11 107.45,179.90 107.70,179.67 107.95,179.45 108.20,179.22 108.44,178.99 108.69,178.76 108.94,178.52 109.18,178.29 109.43,178.04 109.68,177.80 109.93,177.55 110.17,177.29 110.42,177.04 110.67,176.78 110.91,176.51 111.16,176.24 111.41,175.97 111.66,175.70 111.90,175.41 112.15,175.13 112.40,174.84 112.64,174.55 112.89,174.25 113.14,173.95 113.39,173.64 113.63,173.32 113.88,173.01 114.13,172.68 114.37,172.35 114.62,172.02 114.87,171.68 115.12,171.33 115.36,170.98 115.61,170.62 115.86,170.26 116.10,169.89 116.35,169.51 116.60,169.12 116.85,168.73 117.09,168.33 117.34,167.93 117.59,167.51 117.83,167.09 118.08,166.66 118.33,166.22 118.58,165.77 118.82,165.31 119.07,164.84 119.32,164.36 119.57,163.88 119.81,163.38 120.06,162.87 120.31,162.35 120.55,161.81 120.80,161.27 121.05,160.71 121.30,160.14 121.54,159.56 121.79,158.96 122.04,158.35 122.28,157.72 122.53,157.08 122.78,156.42 123.03,155.74 123.27,155.04 123.52,154.33 123.77,153.60 124.01,152.84 124.26,152.07 124.51,151.27 124.76,150.45 125.00,149.60 125.25,148.73 125.50,147.83 125.74,146.91 125.99,145.95 126.24,144.96 126.49,143.94 126.73,142.89 126.98,141.79 127.23,140.66 127.47,139.49 127.72,138.27 127.97,137.01 128.22,135.70 128.46,134.34 128.71,132.92 128.96,131.44 129.20,129.90 129.45,128.30 129.70,126.62 129.95,124.86 130.19,123.02 130.44,121.09 130.69,119.07 130.93,116.95 131.18,114.71 131.43,112.35 131.68,109.86 131.92,107.23 131.93,107.12 131.94,107.01 131.95,106.91 131.96,106.80 131.97,106.69 131.98,106.58 131.99,106.47 132.00,106.36 132.01,106.25 132.02,106.14 132.03,106.02 132.04,105.91 132.05,105.80 132.06,105.69 132.07,105.58 132.08,105.47 132.09,105.35 132.10,105.24 132.11,105.13 132.12,105.01 132.13,104.90 132.14,104.79 132.15,104.67 132.16,104.56 132.17,104.45 132.17,104.45 132.18,104.33 132.19,104.22 132.20,104.10 132.21,103.98 132.22,103.87 132.23,103.75 132.24,103.64 132.25,103.52 132.26,103.40 132.27,103.28 132.28,103.17 132.29,103.05 132.30,102.93 132.31,102.81 132.32,102.69 132.33,102.57 132.34,102.46 132.35,102.34 132.36,102.22 132.37,102.10 132.38,101.98 132.39,101.86 132.40,101.73 132.41,101.61 132.42,101.50 132.42,101.49 132.43,101.37 132.44,101.25 132.45,101.12 132.46,101.00 132.47,100.88 132.48,100.76 132.49,100.63 132.50,100.51 132.51,100.38 132.52,100.26 132.53,100.13 132.54,100.01 132.55,99.88 132.56,99.76 132.57,99.63 132.58,99.51 132.59,99.38 132.60,99.25 132.61,99.13 132.62,99.00 132.63,98.87 132.64,98.74 132.65,98.61 132.66,98.48 132.66,98.36 132.67,98.36 132.68,98.23 132.69,98.10 132.70,97.97 132.71,97.84 132.71,97.71 132.72,97.58 132.73,97.44 132.74,97.31 132.75,97.18 132.76,97.05 132.77,96.91 132.78,96.78 132.79,96.65 132.80,96.51 132.81,96.38 132.82,96.25 132.83,96.11 132.84,95.98 132.85,95.84 132.86,95.71 132.87,95.57 132.88,95.43 132.89,95.30 132.90,95.16 132.91,95.03 132.91,95.02 132.92,94.88 132.93,94.75 132.94,94.61 132.95,94.47 132.96,94.33 132.97,94.19 132.98,94.05 132.99,93.91 133.00,93.77 133.01,93.63 133.02,93.49 133.03,93.35 133.04,93.21 133.05,93.06 133.06,92.92 133.07,92.78 133.08,92.63 133.09,92.49 133.10,92.35 133.11,92.20 133.12,92.06 133.13,91.91 133.14,91.77 133.15,91.62 133.16,91.49 133.16,91.47 133.17,91.33 133.18,91.18 133.19,91.03 133.20,90.88 133.21,90.74 133.22,90.59 133.23,90.44 133.24,90.29 133.25,90.14 133.26,89.99 133.27,89.84 133.28,89.69 133.29,89.54 133.30,89.38 133.31,89.23 133.32,89.08 133.33,88.93 133.34,88.77 133.35,88.62 133.36,88.47 133.37,88.31 133.38,88.16 133.39,88.00 133.40,87.84 133.41,87.71 133.41,87.69 133.42,87.53 133.43,87.38 133.44,87.22 133.45,87.06 133.46,86.90 133.47,86.74 133.48,86.59 133.49,86.43 133.50,86.27 133.51,86.11 133.52,85.94 133.53,85.78 133.54,85.62 133.55,85.46 133.56,85.30 133.57,85.14 133.58,84.97 133.59,84.81 133.60,84.65 133.61,84.48 133.62,84.31 133.63,84.15 133.64,83.98 133.65,83.82 133.65,83.68 133.66,83.65 133.66,83.48 133.67,83.32 133.68,83.15 133.69,82.98 133.70,82.81 133.71,82.64 133.72,82.47 133.73,82.30 133.74,82.13 133.75,81.96 133.76,81.79 133.77,81.62 133.78,81.44 133.79,81.27 133.80,81.10 133.81,80.92 133.82,80.75 133.83,80.57 133.84,80.40 133.85,80.22 133.86,80.05 133.87,79.87 133.88,79.69 133.89,79.52 133.90,79.37 133.90,79.34 133.91,79.16 133.92,78.98 133.93,78.80 133.94,78.62 133.95,78.44 133.96,78.26 133.97,78.08 133.98,77.90 133.99,77.71 134.00,77.53 134.01,77.35 134.02,77.17 134.03,76.98 134.04,76.80 134.05,76.61 134.06,76.42 134.07,76.24 134.08,76.05 134.09,75.86 134.10,75.68 134.11,75.49 134.12,75.30 134.13,75.11 134.14,74.92 134.15,74.77 134.15,74.73 134.16,74.54 134.17,74.35 134.18,74.16 134.19,73.96 134.20,73.77 134.21,73.58 134.22,73.39 134.23,73.19 134.24,73.00 134.25,72.80 134.26,72.61 134.27,72.41 134.28,72.21 134.29,72.01 134.30,71.82 134.31,71.62 134.32,71.42 134.33,71.22 134.34,71.02 134.35,70.82 134.36,70.62 134.37,70.42 134.38,70.21 134.39,70.01 134.39,69.85 134.40,69.81 134.41,69.60 134.42,69.40 134.43,69.20 134.44,68.99 134.45,68.79 134.46,68.58 134.47,68.37 134.48,68.17 134.49,67.96 134.50,67.75 134.51,67.54 134.52,67.33 134.53,67.12 134.54,66.91 134.55,66.70 134.56,66.49 134.57,66.28 134.58,66.06 134.59,65.85 134.60,65.63 134.61,65.42 134.61,65.21 134.62,64.99 134.63,64.77 134.64,64.61 134.64,64.56 134.65,64.34 134.66,64.12 134.67,63.91 134.68,63.69 134.69,63.47 134.70,63.25 134.71,63.03 134.72,62.81 134.73,62.58 134.74,62.36 134.75,62.14 134.76,61.92 134.77,61.70 134.78,61.47 134.79,61.25 134.80,61.02 134.81,60.79 134.82,60.57 134.83,60.34 134.84,60.11 134.85,59.89 134.86,59.66 134.87,59.43 134.88,59.20 134.89,59.03 134.89,58.97 134.90,58.74 134.91,58.51 134.92,58.28 134.93,58.04 134.94,57.81 134.95,57.58 134.96,57.35 134.97,57.11 134.98,56.88 134.99,56.64 135.00,56.41 135.01,56.17 135.02,55.93 135.03,55.70 135.04,55.46 135.05,55.22 135.06,54.98 135.07,54.74 135.08,54.50 135.09,54.26 135.10,54.02 135.11,53.78 135.12,53.54 135.13,53.30 135.14,53.12 135.14,53.05 135.15,52.81 135.16,52.57 135.17,52.32 135.18,52.08 135.19,51.83 135.20,51.59 135.21,51.34 135.22,51.09 135.23,50.85 135.24,50.60 135.25,50.35 135.26,50.10 135.27,49.85 135.28,49.60 135.29,49.35 135.30,49.10 135.31,48.85 135.32,48.60 135.33,48.35 135.34,48.10 135.35,47.85 135.36,47.59 135.37,47.34 135.38,47.08 135.38,46.91 135.39,46.83 135.40,46.58 135.41,46.32 135.42,46.07 135.43,45.81 135.44,45.55 135.45,45.30 135.46,45.04 135.47,44.78 135.48,44.53 135.49,44.27 135.50,44.01 135.51,43.75 135.52,43.49 135.53,43.23 135.54,42.97 135.55,42.72 135.56,42.46 135.56,42.19 135.57,41.93 135.58,41.67 135.59,41.41 135.60,41.15 135.61,40.89 135.62,40.63 135.63,40.45 135.63,40.36 135.64,40.10 135.65,39.84 135.66,39.58 135.67,39.31 135.68,39.05 135.69,38.78 135.70,38.52 135.71,38.26 135.72,37.99 135.73,37.73 135.74,37.47 135.75,37.20 135.76,36.94 135.77,36.67 135.78,36.41 135.79,36.14 135.80,35.88 135.81,35.61 135.82,35.35 135.83,35.08 135.84,34.82 135.85,34.55 135.86,34.29 135.87,34.02 135.88,33.85 135.88,33.76 135.89,33.49 135.90,33.23 135.91,32.96 135.92,32.70 135.93,32.43 135.94,32.17 135.95,31.90 135.96,31.64 135.97,31.38 135.98,31.11 135.99,30.85 136.00,30.59 136.01,30.32 136.02,30.06 136.03,29.79 136.04,29.53 136.05,29.27 136.06,29.01 136.07,28.75 136.08,28.49 136.09,28.22 136.10,27.96 136.11,27.70 136.12,27.44 136.13,27.28 136.13,27.18 136.14,26.92 136.15,26.67 136.16,26.41 136.17,26.15 136.18,25.89 136.19,25.64 136.20,25.38 136.21,25.13 136.22,24.87 136.23,24.62 136.24,24.36 136.25,24.11 136.26,23.86 136.27,23.61 136.28,23.36 136.29,23.11 136.30,22.86 136.31,22.61 136.32,22.36 136.33,22.12 136.34,21.87 136.35,21.62 136.36,21.38 136.37,21.14 136.37,20.99 136.38,20.89 136.39,20.65 136.40,20.41 136.41,20.17 136.42,19.94 136.43,19.70 136.44,19.46 136.45,19.23 136.46,18.99 136.47,18.76 136.48,18.53 136.49,18.30 136.50,18.07 136.51,17.85 136.51,17.62 136.52,17.40 136.53,17.17 136.54,16.95 136.55,16.73 136.56,16.51 136.57,16.29 136.58,16.08 136.59,15.86 136.60,15.65 136.61,15.44 136.62,15.32 136.62,15.23 136.63,15.02 136.64,14.82 136.65,14.61 136.66,14.41 136.67,14.21 136.68,14.01 136.69,13.81 136.70,13.61 136.71,13.42 136.72,13.23 136.73,13.04 136.74,12.85 136.75,12.66 136.76,12.48 136.77,12.30 136.78,12.12 136.79,11.94 136.80,11.76 136.81,11.59 136.82,11.42 136.83,11.25 136.84,11.08 136.85,10.92 136.86,10.75 136.87,10.67 136.87,10.59 136.88,10.44 136.89,10.28 136.90,10.13 136.91,9.98 136.92,9.83 136.93,9.68 136.94,9.54 136.95,9.40 136.96,9.26 136.97,9.13 136.98,8.99 136.99,8.86 137.00,8.73 137.01,8.61 137.02,8.49 137.03,8.37 137.04,8.25 137.05,8.13 137.06,8.02 137.07,7.91 137.08,7.81 137.09,7.70 137.10,7.60 137.11,7.51 137.11,7.46 137.12,7.41 137.13,7.32 137.14,7.23 137.15,7.15 137.16,7.06 137.17,6.98 137.18,6.91 137.19,6.83 137.20,6.76 137.21,6.69 137.22,6.63 137.23,6.57 137.24,6.51 137.25,6.45 137.26,6.40 137.27,6.35 137.28,6.31 137.29,6.26 137.30,6.22 137.31,6.19 137.32,6.15 137.33,6.12 137.34,6.09 137.35,6.07 137.36,6.05 137.36,6.04 137.37,6.03 137.38,6.02 137.39,6.01 137.40,6.00 137.41,6.00 137.42,6.00 137.43,6.00 137.44,6.00 137.45,6.01 137.46,6.02 137.46,6.03 137.47,6.05 137.48,6.07 137.49,6.09 137.50,6.12 137.51,6.15 137.52,6.19 137.53,6.22 137.54,6.26 137.55,6.31 137.56,6.35 137.57,6.40 137.58,6.46 137.59,6.51 137.60,6.57 137.61,6.60 137.61,6.63 137.62,6.70 137.63,6.77 137.64,6.84 137.65,6.91 137.66,6.99 137.67,7.07 137.68,7.16 137.69,7.24 137.70,7.33 137.71,7.43 137.72,7.52 137.73,7.62 137.74,7.72 137.75,7.83 137.76,7.94 137.77,8.05 137.78,8.16 137.79,8.28 137.80,8.40 137.81,8.52 137.82,8.64 137.83,8.77 137.84,8.90 137.85,9.03 137.86,9.10 137.86,9.17 137.87,9.31 137.88,9.45 137.89,9.59 137.90,9.74 137.91,9.89 137.92,10.04 137.93,10.19 137.94,10.35 137.95,10.51 137.96,10.67 137.97,10.84 137.98,11.00 137.99,11.17 138.00,11.34 138.01,11.52 138.02,11.69 138.03,11.87 138.04,12.05 138.05,12.24 138.06,12.42 138.07,12.61 138.08,12.80 138.09,12.99 138.10,13.18 138.10,13.27 138.11,13.38 138.12,13.58 138.13,13.78 138.14,13.98 138.15,14.18 138.16,14.39 138.17,14.60 138.18,14.81 138.19,15.02 138.20,15.23 138.21,15.45 138.22,15.66 138.23,15.88 138.24,16.10 138.25,16.32 138.26,16.55 138.27,16.77 138.28,17.00 138.29,17.23 138.30,17.46 138.31,17.69 138.32,17.93 138.33,18.16 138.34,18.40 138.35,18.63 138.35,18.73 138.36,18.87 138.37,19.11 138.38,19.35 138.39,19.59 138.40,19.84 138.41,20.09 138.41,20.33 138.42,20.58 138.43,20.83 138.44,21.08 138.45,21.33 138.46,21.58 138.47,21.83 138.48,22.09 138.49,22.34 138.50,22.60 138.51,22.86 138.52,23.12 138.53,23.38 138.54,23.64 138.55,23.90 138.56,24.16 138.57,24.42 138.58,24.68 138.59,24.95 138.60,25.05 138.60,25.21 138.61,25.48 138.62,25.75 138.63,26.01 138.64,26.28 138.65,26.55 138.66,26.82 138.67,27.09 138.68,27.36 138.69,27.63 138.70,27.90 138.71,28.17 138.72,28.44 138.73,28.72 138.74,28.99 138.75,29.26 138.76,29.54 138.77,29.81 138.78,30.09 138.79,30.36 138.80,30.64 138.81,30.91 138.82,31.19 138.83,31.47 138.84,31.74 138.84,31.84 138.85,32.02 138.86,32.30 138.87,32.57 138.88,32.85 138.89,33.13 138.90,33.41 138.91,33.68 138.92,33.96 138.93,34.24 138.94,34.52 138.95,34.80 138.96,35.08 138.97,35.36 138.98,35.63 138.99,35.91 139.00,36.19 139.01,36.47 139.02,36.75 139.03,37.03 139.04,37.31 139.05,37.59 139.06,37.86 139.07,38.14 139.08,38.42 139.09,38.70 139.09,38.79 139.10,38.98 139.11,39.26 139.12,39.53 139.13,39.81 139.14,40.09 139.15,40.37 139.16,40.65 139.17,40.92 139.18,41.20 139.19,41.48 139.20,41.75 139.21,42.03 139.22,42.31 139.23,42.58 139.24,42.86 139.25,43.13 139.26,43.41 139.27,43.69 139.28,43.96 139.29,44.23 139.30,44.51 139.31,44.78 139.32,45.05 139.33,45.33 139.34,45.60 139.34,45.69 139.35,45.87 139.35,46.14 139.36,46.42 139.37,46.69 139.38,46.96 139.39,47.23 139.40,47.50 139.41,47.77 139.42,48.04 139.43,48.31 139.44,48.58 139.45,48.85 139.46,49.12 139.47,49.38 139.48,49.65 139.49,49.92 139.50,50.18 139.51,50.45 139.52,50.72 139.53,50.98 139.54,51.25 139.55,51.51 139.56,51.77 139.57,52.04 139.58,52.30 139.59,52.38 139.59,52.56 139.60,52.82 139.61,53.09 139.62,53.35 139.63,53.61 139.64,53.87 139.65,54.12 139.66,54.38 139.67,54.64 139.68,54.90 139.69,55.16 139.70,55.42 139.71,55.67 139.72,55.93 139.73,56.18 139.74,56.44 139.75,56.69 139.76,56.95 139.77,57.20 139.78,57.45 139.79,57.70 139.80,57.95 139.81,58.21 139.82,58.46 139.83,58.71 139.83,58.78 139.84,58.96 139.85,59.21 139.86,59.45 139.87,59.70 139.88,59.95 139.89,60.20 139.90,60.44 139.91,60.69 139.92,60.93 139.93,61.18 139.94,61.42 139.95,61.67 139.96,61.91 139.97,62.15 139.98,62.39 139.99,62.63 140.00,62.87 140.01,63.11 140.02,63.35 140.03,63.59 140.04,63.83 140.05,64.07 140.06,64.31 140.07,64.54 140.08,64.78 140.08,64.84 140.09,65.02 140.10,65.25 140.11,65.48 140.12,65.72 140.13,65.95 140.14,66.19 140.15,66.42 140.16,66.65 140.17,66.88 140.18,67.11 140.19,67.34 140.20,67.57 140.21,67.80 140.22,68.03 140.23,68.25 140.24,68.48 140.25,68.71 140.26,68.94 140.27,69.16 140.28,69.39 140.29,69.61 140.30,69.83 140.30,70.06 140.31,70.28 140.32,70.50 140.33,70.55 140.33,70.72 140.34,70.94 140.35,71.17 140.36,71.39 140.37,71.60 140.38,71.82 140.39,72.04 140.40,72.26 140.41,72.48 140.42,72.69 140.43,72.91 140.44,73.12 140.45,73.34 140.46,73.55 140.47,73.77 140.48,73.98 140.49,74.19 140.50,74.40 140.51,74.62 140.52,74.83 140.53,75.04 140.54,75.25 140.55,75.46 140.56,75.66 140.57,75.87 140.57,75.92 140.58,76.08 140.59,76.29 140.60,76.50 140.61,76.70 140.62,76.91 140.63,77.11 140.64,77.32 140.65,77.52 140.66,77.72 140.67,77.93 140.68,78.13 140.69,78.33 140.70,78.53 140.71,78.73 140.72,78.93 140.73,79.13 140.74,79.33 140.75,79.53 140.76,79.73 140.77,79.93 140.78,80.12 140.79,80.32 140.80,80.52 140.81,80.71 140.82,80.91 140.82,80.94 140.83,81.10 140.84,81.30 140.85,81.49 140.86,81.68 140.87,81.88 140.88,82.07 140.89,82.26 140.90,82.45 140.91,82.64 140.92,82.83 140.93,83.02 140.94,83.21 140.95,83.40 140.96,83.59 140.97,83.77 140.98,83.96 140.99,84.15 141.00,84.33 141.01,84.52 141.02,84.71 141.03,84.89 141.04,85.07 141.05,85.26 141.06,85.44 141.07,85.62 141.07,85.65 141.08,85.81 141.09,85.99 141.10,86.17 141.11,86.35 141.12,86.53 141.13,86.71 141.14,86.89 141.15,87.07 141.16,87.25 141.17,87.42 141.18,87.60 141.19,87.78 141.20,87.96 141.21,88.13 141.22,88.31 141.23,88.48 141.24,88.66 141.25,88.83 141.25,89.01 141.26,89.18 141.27,89.35 141.28,89.52 141.29,89.70 141.30,89.87 141.31,90.04 141.32,90.06 141.32,90.21 141.33,90.38 141.34,90.55 141.35,90.72 141.36,90.89 141.37,91.06 141.38,91.23 141.39,91.39 141.40,91.56 141.41,91.73 141.42,91.89 141.43,92.06 141.44,92.23 141.45,92.39 141.46,92.55 141.47,92.72 141.48,92.88 141.49,93.05 141.50,93.21 141.51,93.37 141.52,93.53 141.53,93.69 141.54,93.86 141.55,94.02 141.56,94.18 141.56,94.20 141.57,94.34 141.58,94.50 141.59,94.66 141.60,94.82 141.61,94.97 141.62,95.13 141.63,95.29 141.64,95.45 141.65,95.60 141.66,95.76 141.67,95.92 141.68,96.07 141.69,96.23 141.70,96.38 141.71,96.54 141.72,96.69 141.73,96.85 141.74,97.00 141.75,97.15 141.76,97.30 141.77,97.46 141.78,97.61 141.79,97.76 141.80,97.91 141.81,98.06 141.81,98.08 141.82,98.21 141.83,98.36 141.84,98.51 141.85,98.66 141.86,98.81 141.87,98.96 141.88,99.11 141.89,99.25 141.90,99.40 141.91,99.55 141.92,99.69 141.93,99.84 141.94,99.99 141.95,100.13 141.96,100.28 141.97,100.42 141.98,100.57 141.99,100.71 142.00,100.85 142.01,101.00 142.02,101.14 142.03,101.28 142.04,101.43 142.05,101.57 142.06,101.71 142.06,101.72 142.07,101.85 142.08,101.99 142.09,102.13 142.10,102.27 142.11,102.41 142.12,102.55 142.13,102.69 142.14,102.83 142.15,102.97 142.16,103.11 142.17,103.24 142.18,103.38 142.19,103.52 142.19,103.66 142.20,103.79 142.21,103.93 142.22,104.07 142.23,104.20 142.24,104.34 142.25,104.47 142.26,104.61 142.27,104.74 142.28,104.87 142.29,105.01 142.30,105.14 142.30,105.15 142.31,105.27 142.32,105.41 142.33,105.54 142.34,105.67 142.35,105.80 142.36,105.93 142.37,106.07 142.38,106.20 142.39,106.33 142.40,106.46 142.41,106.59 142.42,106.72 142.43,106.85 142.44,106.98 142.45,107.10 142.46,107.23 142.47,107.36 142.48,107.49 142.49,107.61 142.50,107.74 142.51,107.87 142.52,108.00 142.53,108.12 142.54,108.25 142.55,108.37 142.55,108.38 142.56,108.50 142.57,108.62 142.58,108.75 142.59,108.87 142.60,109.00 142.61,109.12 142.62,109.25 142.63,109.37 142.64,109.49 142.65,109.62 142.66,109.74 142.67,109.86 142.68,109.98 142.69,110.10 142.70,110.23 142.71,110.35 142.72,110.47 142.73,110.59 142.74,110.71 142.75,110.83 142.76,110.95 142.77,111.07 142.78,111.19 142.79,111.31 142.80,111.42 143.05,114.31 143.29,117.03 143.54,119.62 143.79,122.07 144.03,124.40 144.28,126.63 144.53,128.74 144.78,130.77 145.02,132.70 145.27,134.55 145.52,136.32 145.76,138.02 146.01,139.65 146.26,141.22 146.51,142.73 146.75,144.18 147.00,145.58 147.25,146.93 147.49,148.24 147.74,149.50 147.99,150.72 148.24,151.90 148.48,153.04 148.73,154.14 148.98,155.22 149.23,156.26 149.47,157.27 149.72,158.25 149.97,159.21 150.21,160.13 150.46,161.04 150.71,161.92 150.96,162.77 151.20,163.61 151.45,164.42 151.70,165.22 151.94,165.99 152.19,166.75 152.44,167.49 152.69,168.21 152.93,168.92 153.18,169.61 153.43,170.28 153.67,170.94 153.92,171.59 154.17,172.22 154.42,172.84 154.66,173.45 154.91,174.05 155.16,174.63 155.40,175.21 155.65,175.77 155.90,176.32 156.15,176.86 156.39,177.40 156.64,177.92 156.89,178.43 157.13,178.94 157.38,179.43 157.63,179.92 157.88,180.40 158.12,180.87 158.37,181.34 158.62,181.79 158.86,182.24 159.11,182.68 159.36,183.12 159.61,183.55 159.85,183.97 160.10,184.39 160.35,184.80 160.59,185.20 160.84,185.60 161.09,186.00 161.34,186.38 161.58,186.77 161.83,187.14 162.08,187.52 162.32,187.88 162.57,188.25 162.82,188.60 163.07,188.96 163.31,189.31 163.56,189.65 163.81,189.99 164.06,190.33 164.30,190.66 164.55,190.99 164.80,191.31 165.04,191.63 165.29,191.95 165.54,192.26 165.79,192.57 166.03,192.88 166.28,193.18 166.53,193.48 166.77,193.77 167.02,194.06 167.27,194.35 167.52,194.64 167.76,194.92 168.01,195.20 168.26,195.48 168.50,195.75 168.75,196.02 169.00,196.29 169.25,196.56 169.49,196.82 169.74,197.08 169.99,197.34 170.23,197.59 170.48,197.85 170.73,198.10 170.98,198.34 171.22,198.59 171.47,198.83 171.72,199.07 171.96,199.31 172.21,199.54 172.46,199.77 172.71,200.00 172.95,200.23 173.20,200.46 173.45,200.68 173.69,200.90 173.94,201.12 174.19,201.33 174.44,201.55 174.68,201.76 174.93,201.97 175.18,202.17 175.42,202.38 175.67,202.58 175.92,202.78 176.17,202.98 176.41,203.17 176.66,203.36 176.91,203.56 177.15,203.74 177.40,203.93 177.65,204.11 177.90,204.29 178.14,204.47 178.39,204.65 178.64,204.82 178.88,204.99 179.13,205.16 179.38,205.33 179.63,205.49 179.87,205.65 180.12,205.81 180.37,205.96 180.62,206.12 180.86,206.27 181.11,206.41 181.36,206.56 181.60,206.70 181.85,206.83 182.10,206.97 182.35,207.10 182.59,207.23 182.84,207.36 183.09,207.48 183.33,207.60 183.58,207.71 183.83,207.82 184.08,207.93 184.32,208.04 184.57,208.14 184.82,208.24 185.06,208.33 185.31,208.42 185.56,208.51 185.81,208.59 186.05,208.67 186.30,208.74 186.55,208.81 186.79,208.88 187.04,208.94 187.29,208.99 187.54,209.05 187.78,209.09 188.03,209.14 188.28,209.18 188.52,209.21 188.77,209.24 189.02,209.26 189.27,209.28 189.51,209.30 189.76,209.31 190.01,209.31 190.25,209.32 190.50,209.31 190.75,209.30 191.00,209.29 191.24,209.27 191.49,209.24 191.74,209.21 191.98,209.17 192.23,209.13 192.48,209.09 192.73,209.04 192.97,208.98 193.22,208.92 193.47,208.85 193.72,208.78 193.96,208.71 194.21,208.62 194.46,208.54 194.70,208.45 194.95,208.35 195.20,208.25 195.45,208.14 195.69,208.03 195.94,207.91 196.19,207.79 196.43,207.66 196.68,207.53 196.93,207.40 197.18,207.26 197.42,207.11 197.67,206.96 197.92,206.80 198.16,206.65 198.41,206.48 198.66,206.31 198.91,206.14 199.15,205.96 199.40,205.78 199.65,205.59 199.89,205.40 200.14,205.20 200.39,205.00 200.64,204.80 200.88,204.59 201.13,204.38 201.38,204.16 201.62,203.94 201.87,203.71 202.12,203.48 202.37,203.25 202.61,203.01 202.86,202.76 203.11,202.52 203.35,202.27 203.60,202.01 203.85,201.75 204.10,201.48 204.34,201.21 204.59,200.94 204.84,200.66 205.08,200.38 205.33,200.09 205.58,199.80 205.83,199.50 206.07,199.20 206.32,198.89 206.57,198.58 206.81,198.27 207.06,197.95 207.31,197.62 207.56,197.29 207.80,196.96 208.05,196.61 208.30,196.27 208.54,195.92 208.79,195.56 209.04,195.20 209.29,194.83 209.53,194.45 209.78,194.07 210.03,193.68 210.28,193.29 210.52,192.89 210.77,192.49 211.02,192.07 211.26,191.65 211.51,191.23 211.76,190.79 212.01,190.35 212.25,189.90 212.50,189.45 212.75,188.98 212.99,188.51 213.24,188.03 213.49,187.54 213.74,187.04 213.98,186.53 214.23,186.01 214.48,185.49 214.72,184.95 214.97,184.40 215.22,183.84 215.47,183.27 215.71,182.69 215.96,182.09 216.21,181.49 216.45,180.87 216.70,180.23 216.95,179.59 217.20,178.93 217.44,178.25 217.69,177.56 217.94,176.85 218.18,176.13 218.43,175.39 218.68,174.63 218.93,173.86 219.17,173.06 219.42,172.25 219.67,171.41 219.91,170.55 220.16,169.67 220.41,168.77 220.66,167.84 220.90,166.89 221.15,165.91 221.40,164.91 221.64,163.87 221.89,162.81 222.14,161.71 222.39,160.59 222.63,159.43 222.88,158.24 223.13,157.01 223.38,155.74 223.62,154.44 223.87,153.10 224.12,151.72 224.36,150.30 224.61,148.84 224.86,147.33 225.11,145.78 225.35,144.19 225.60,142.56 225.85,140.88 225.87,140.75 225.89,140.61 225.91,140.48 225.93,140.34 225.95,140.20 225.97,140.06 225.99,139.93 226.01,139.79 226.03,139.65 226.04,139.51 226.06,139.38 226.08,139.24 226.09,139.17 226.10,139.10 226.12,138.96 226.14,138.82 226.16,138.68 226.18,138.54 226.20,138.40 226.22,138.26 226.24,138.12 226.26,137.98 226.28,137.84 226.30,137.70 226.32,137.55 226.34,137.42 226.34,137.41 226.36,137.27 226.38,137.13 226.40,136.99 226.42,136.84 226.44,136.70 226.46,136.56 226.48,136.42 226.50,136.27 226.52,136.13 226.54,135.99 226.56,135.84 226.58,135.70 226.59,135.64 226.60,135.55 226.62,135.41 226.64,135.26 226.66,135.12 226.68,134.97 226.70,134.83 226.72,134.68 226.74,134.54 226.76,134.39 226.78,134.25 226.80,134.10 226.82,133.95 226.84,133.82 226.84,133.81 226.86,133.66 226.88,133.51 226.90,133.37 226.92,133.22 226.94,133.07 226.96,132.93 226.98,132.78 227.00,132.63 227.02,132.48 227.04,132.34 227.06,132.19 227.08,132.04 227.08,131.99 227.09,131.89 227.11,131.75 227.13,131.60 227.15,131.45 227.17,131.30 227.19,131.15 227.21,131.00 227.23,130.86 227.25,130.71 227.27,130.56 227.29,130.41 227.31,130.26 227.33,130.13 227.33,130.11 227.35,129.96 227.37,129.81 227.39,129.66 227.41,129.52 227.43,129.37 227.45,129.22 227.47,129.07 227.49,128.92 227.51,128.77 227.53,128.62 227.55,128.47 227.57,128.32 227.58,128.27 227.59,128.17 227.61,128.02 227.63,127.88 227.65,127.73 227.67,127.58 227.69,127.43 227.71,127.28 227.73,127.13 227.75,126.98 227.77,126.84 227.79,126.69 227.81,126.54 227.82,126.42 227.83,126.39 227.85,126.24 227.87,126.09 227.89,125.95 227.91,125.80 227.93,125.65 227.95,125.50 227.97,125.36 227.99,125.21 228.01,125.06 228.03,124.92 228.05,124.77 228.07,124.62 228.07,124.58 228.09,124.48 228.11,124.33 228.13,124.19 228.14,124.04 228.16,123.90 228.18,123.75 228.20,123.61 228.22,123.46 228.24,123.32 228.26,123.17 228.28,123.03 228.30,122.89 228.32,122.78 228.32,122.74 228.34,122.60 228.36,122.46 228.38,122.32 228.40,122.18 228.42,122.04 228.44,121.89 228.46,121.75 228.48,121.61 228.50,121.47 228.52,121.34 228.54,121.20 228.56,121.06 228.57,121.03 228.58,120.92 228.60,120.78 228.62,120.65 228.64,120.51 228.66,120.38 228.68,120.24 228.70,120.10 228.72,119.97 228.74,119.84 228.76,119.70 228.78,119.57 228.80,119.44 228.81,119.35 228.82,119.31 228.84,119.18 228.86,119.05 228.88,118.92 228.90,118.79 228.92,118.66 228.94,118.53 228.96,118.40 228.98,118.28 229.00,118.15 229.02,118.03 229.04,117.90 229.06,117.78 229.06,117.76 229.08,117.66 229.10,117.54 229.12,117.41 229.14,117.29 229.16,117.17 229.18,117.06 229.20,116.94 229.21,116.82 229.23,116.70 229.25,116.59 229.27,116.47 229.29,116.36 229.31,116.29 229.31,116.25 229.33,116.13 229.35,116.02 229.37,115.91 229.39,115.80 229.41,115.70 229.43,115.59 229.45,115.48 229.47,115.38 229.49,115.27 229.51,115.17 229.53,115.07 229.55,114.96 229.55,114.95 229.57,114.86 229.59,114.76 229.61,114.67 229.63,114.57 229.65,114.47 229.67,114.38 229.69,114.28 229.71,114.19 229.73,114.10 229.75,114.01 229.77,113.92 229.79,113.83 229.80,113.78 229.81,113.75 229.83,113.66 229.85,113.58 229.87,113.49 229.89,113.41 229.91,113.33 229.93,113.25 229.95,113.17 229.97,113.09 229.99,113.02 230.01,112.94 230.03,112.87 230.05,112.80 230.05,112.79 230.07,112.73 230.09,112.66 230.11,112.59 230.13,112.52 230.15,112.46 230.17,112.39 230.19,112.33 230.21,112.27 230.23,112.21 230.25,112.15 230.26,112.09 230.28,112.04 230.30,112.01 230.30,111.98 230.32,111.93 230.34,111.88 230.36,111.83 230.38,111.78 230.40,111.73 230.42,111.69 230.44,111.64 230.46,111.60 230.48,111.56 230.50,111.52 230.52,111.48 230.54,111.44 230.54,111.44 230.56,111.40 230.58,111.37 230.60,111.34 230.62,111.31 230.64,111.28 230.66,111.25 230.68,111.22 230.70,111.19 230.72,111.17 230.74,111.15 230.76,111.13 230.78,111.11 230.79,111.10 230.80,111.09 230.82,111.07 230.84,111.06 230.86,111.04 230.88,111.03 230.90,111.02 230.92,111.01 230.94,111.01 230.96,111.00 230.98,110.99 231.00,110.99 231.02,110.99 231.04,110.99 231.04,110.99 231.06,110.99 231.08,110.99 231.10,111.00 231.12,111.00 231.14,111.01 231.16,111.02 231.18,111.03 231.20,111.04 231.22,111.06 231.24,111.07 231.26,111.09 231.28,111.10 231.28,111.11 231.30,111.12 231.32,111.14 231.33,111.17 231.35,111.19 231.37,111.21 231.39,111.24 231.41,111.27 231.43,111.30 231.45,111.33 231.47,111.36 231.49,111.39 231.51,111.43 231.53,111.46 231.53,111.46 231.55,111.50 231.57,111.54 231.59,111.58 231.61,111.62 231.63,111.66 231.65,111.70 231.67,111.75 231.69,111.80 231.71,111.84 231.73,111.89 231.75,111.94 231.77,112.00 231.78,112.02 231.79,112.05 231.81,112.10 231.83,112.16 231.85,112.21 231.87,112.27 231.89,112.33 231.91,112.39 231.93,112.45 231.95,112.52 231.97,112.58 231.99,112.64 232.01,112.71 232.03,112.77 232.03,112.78 232.05,112.85 232.07,112.92 232.09,112.99 232.11,113.06 232.13,113.13 232.15,113.20 232.17,113.28 232.19,113.36 232.21,113.43 232.23,113.51 232.25,113.59 232.27,113.67 232.27,113.70 232.29,113.75 232.31,113.83 232.33,113.92 232.35,114.00 232.37,114.08 232.38,114.17 232.40,114.26 232.42,114.34 232.44,114.43 232.46,114.52 232.48,114.61 232.50,114.70 232.52,114.78 232.52,114.80 232.54,114.89 232.56,114.98 232.58,115.08 232.60,115.17 232.62,115.27 232.64,115.37 232.66,115.46 232.68,115.56 232.70,115.66 232.72,115.76 232.74,115.86 232.76,115.96 232.77,115.99 232.78,116.06 232.80,116.17 232.82,116.27 232.84,116.37 232.86,116.48 232.88,116.59 232.90,116.69 232.92,116.80 232.94,116.90 232.96,117.01 232.98,117.12 233.00,117.23 233.01,117.32 233.02,117.34 233.04,117.45 233.06,117.56 233.08,117.67 233.10,117.78 233.12,117.90 233.14,118.01 233.16,118.12 233.18,118.24 233.20,118.35 233.22,118.46 233.24,118.58 233.26,118.69 233.26,118.72 233.28,118.81 233.30,118.93 233.32,119.04 233.34,119.16 233.36,119.28 233.38,119.40 233.40,119.52 233.42,119.63 233.44,119.75 233.45,119.87 233.47,119.99 233.49,120.11 233.51,120.20 233.51,120.23 233.53,120.35 233.55,120.47 233.57,120.59 233.59,120.72 233.61,120.84 233.63,120.96 233.65,121.08 233.67,121.21 233.69,121.33 233.71,121.45 233.73,121.57 233.75,121.70 233.76,121.72 233.77,121.82 233.79,121.95 233.81,122.07 233.83,122.19 233.85,122.32 233.87,122.44 233.89,122.57 233.91,122.69 233.93,122.82 233.95,122.94 233.97,123.07 233.99,123.19 234.00,123.28 234.01,123.32 234.03,123.45 234.05,123.57 234.07,123.70 234.09,123.82 234.11,123.95 234.13,124.08 234.15,124.20 234.17,124.33 234.19,124.45 234.21,124.58 234.23,124.71 234.25,124.83 234.25,124.85 234.27,124.96 234.29,125.09 234.31,125.21 234.33,125.34 234.35,125.47 234.37,125.59 234.39,125.72 234.41,125.85 234.43,125.97 234.45,126.10 234.47,126.23 234.49,126.35 234.50,126.43 234.50,126.48 234.52,126.61 234.54,126.73 234.56,126.86 234.58,126.99 234.60,127.11 234.62,127.24 234.64,127.37 234.66,127.49 234.68,127.62 234.70,127.74 234.72,127.87 234.74,128.00 234.74,128.01 234.76,128.12 234.78,128.25 234.80,128.37 234.82,128.50 234.84,128.62 234.86,128.75 234.88,128.88 234.90,129.00 234.92,129.13 234.94,129.25 234.96,129.38 234.98,129.50 234.99,129.57 235.00,129.62 235.02,129.75 235.04,129.87 235.06,130.00 235.08,130.12 235.10,130.25 235.12,130.37 235.14,130.49 235.16,130.62 235.18,130.74 235.20,130.86 235.22,130.99 235.24,131.11 235.24,131.12 235.26,131.23 235.28,131.36 235.30,131.48 235.32,131.60 235.34,131.72 235.36,131.85 235.38,131.97 235.40,132.09 235.42,132.21 235.44,132.33 235.46,132.45 235.48,132.57 235.49,132.64 235.50,132.69 235.52,132.82 235.54,132.94 235.55,133.06 235.57,133.18 235.59,133.30 235.61,133.42 235.63,133.54 235.65,133.65 235.67,133.77 235.69,133.89 235.71,134.01 235.73,134.13 235.98,135.59 236.23,137.02 236.47,138.41 236.72,139.76 236.97,141.08 237.22,142.37 237.46,143.61 237.71,144.82 237.96,146.00 238.21,147.14 238.45,148.24 238.70,149.31 238.95,150.35 239.19,151.36 239.44,152.34 239.69,153.29 239.94,154.22 240.18,155.11 240.43,155.98 240.68,156.83 240.92,157.65 241.17,158.45 241.42,159.22 241.67,159.98 241.91,160.71 242.16,161.43 242.41,162.12 242.65,162.80 242.90,163.46 243.15,164.10 243.40,164.72 243.64,165.33 243.89,165.93 244.14,166.51 244.38,167.07 244.63,167.63 244.88,168.17 245.13,168.69 245.37,169.21 245.62,169.71 245.87,170.20 246.11,170.68 246.36,171.15 246.61,171.61 246.86,172.06 247.10,172.50 247.35,172.93 247.60,173.35 247.84,173.77 248.09,174.17 248.34,174.57 248.59,174.96 248.83,175.34 249.08,175.71 249.33,176.08 249.57,176.44 249.82,176.79 250.07,177.13 250.32,177.47 250.56,177.81 250.81,178.13 251.06,178.46 251.30,178.77 251.55,179.08 251.80,179.39 252.05,179.69 252.29,179.98 252.54,180.27 252.79,180.56 253.03,180.84 253.28,181.11 253.53,181.38 253.78,181.65 254.02,181.91 254.27,182.17 254.52,182.42 254.77,182.67 255.01,182.92 255.26,183.16 255.51,183.40 255.75,183.64 256.00,183.87 256.25,184.10 256.50,184.32 256.74,184.55 256.99,184.77 257.24,184.98 257.48,185.19 257.73,185.40 257.98,185.61 258.23,185.82 258.47,186.02 258.72,186.22 258.97,186.41 259.21,186.60 259.46,186.80 259.71,186.98 259.96,187.17 260.20,187.35 260.45,187.53 260.70,187.71 260.94,187.89 261.19,188.06 261.44,188.24 261.69,188.41 261.93,188.57 262.18,188.74 262.43,188.90 262.67,189.07 262.92,189.23 263.17,189.39 263.42,189.54 263.66,189.70 263.91,189.85 264.16,190.00 264.40,190.15 264.65,190.30 264.90,190.44 265.15,190.59 265.39,190.73 265.64,190.87 265.89,191.01 266.13,191.15 266.38,191.29 266.63,191.42 266.88,191.56 267.12,191.69 267.37,191.82 267.62,191.95 267.87,192.08 268.11,192.21 268.36,192.33 268.61,192.46 268.85,192.58 269.10,192.70 269.35,192.82 269.60,192.94 269.84,193.06 270.09,193.18 270.34,193.29 270.58,193.41 270.83,193.52 271.08,193.63 271.33,193.75 271.57,193.86 271.82,193.97 272.07,194.07 272.31,194.18 272.56,194.29 272.81,194.39 273.06,194.50 273.30,194.60 273.55,194.71 273.80,194.81 274.04,194.91 274.29,195.01 274.54,195.11 274.79,195.21 275.03,195.30 275.28,195.40 275.53,195.49 275.77,195.59 276.02,195.68 276.27,195.78 276.52,195.87 276.76,195.96 277.01,196.05 277.26,196.14 277.50,196.23 277.75,196.32 278.00,196.41 278.25,196.49 278.49,196.58 278.74,196.67 278.99,196.75 279.23,196.84 279.48,196.92 279.73,197.00 279.98,197.09 280.22,197.17 280.47,197.25 280.72,197.33 280.96,197.41 281.21,197.49 281.46,197.57 281.71,197.64 281.95,197.72 282.20,197.80 282.45,197.87 282.69,197.95 282.94,198.03 283.19,198.10 283.44,198.17 283.68,198.25 283.93,198.32 284.18,198.39 284.43,198.46 284.67,198.53 284.92,198.61 285.17,198.68 285.41,198.75 285.66,198.81 285.91,198.88 286.16,198.95 286.40,199.02 286.65,199.09 286.90,199.15 287.14,199.22 287.39,199.29 287.64,199.35 287.89,199.42 288.13,199.48 288.38,199.54 288.63,199.61 288.87,199.67 289.12,199.73 289.37,199.80 289.62,199.86 289.86,199.92 290.11,199.98 290.36,200.04 290.60,200.10 290.85,200.16 291.10,200.22 291.35,200.28 291.59,200.34 291.84,200.40 292.09,200.45 292.33,200.51 292.58,200.57 292.83,200.63 293.08,200.68 293.32,200.74 293.57,200.79 293.82,200.85 294.06,200.90 294.31,200.96 294.56,201.01 294.81,201.07 295.05,201.12 295.30,201.17 295.55,201.23 295.79,201.28 296.04,201.33 296.29,201.38 296.54,201.44 296.78,201.49 297.03,201.54 297.28,201.59 297.53,201.64 297.77,201.69 298.02,201.74 298.27,201.79 298.51,201.84 298.76,201.89 299.01,201.93 299.26,201.98 299.50,202.03 299.75,202.08 300.00,202.13 300.24,202.17 300.49,202.22 300.74,202.27 300.99,202.31 301.23,202.36 301.48,202.41 301.73,202.45 301.97,202.50 302.22,202.54 302.47,202.59 302.72,202.63 302.96,202.68 303.21,202.72 303.46,202.76 303.70,202.81 303.95,202.85 304.20,202.89 304.45,202.94 304.69,202.98 304.94,203.02 305.19,203.06 305.43,203.11 305.68,203.15 305.93,203.19 306.18,203.23 306.42,203.27 306.67,203.31 306.92,203.35 307.16,203.39 307.41,203.43 307.66,203.47 307.91,203.51 308.15,203.55 308.40,203.59 308.65,203.63 308.89,203.67 309.14,203.71 309.39,203.75 309.64,203.78 309.88,203.82 310.13,203.86 310.38,203.90 310.62,203.93 310.87,203.97 311.12,204.01 311.37,204.05 311.61,204.08 311.86,204.12 312.11,204.15 312.36,204.19 312.60,204.23 312.85,204.26 313.10,204.30 313.34,204.33 313.59,204.37 313.84,204.40 314.09,204.44 314.33,204.47 314.58,204.51 314.83,204.54 315.07,204.58 315.32,204.61 315.57,204.64 315.82,204.68 316.06,204.71 316.31,204.74 316.56,204.78 316.80,204.81 317.05,204.84 317.30,204.88 317.55,204.91 317.79,204.94 318.04,204.97 318.29,205.01 318.53,205.04 318.78,205.07 319.03,205.10 319.28,205.13 319.52,205.16 319.77,205.19 320.02,205.22 320.26,205.26 320.51,205.29 320.76,205.32 321.01,205.35 321.25,205.38 321.50,205.41 321.75,205.44 321.99,205.47 322.24,205.50 322.49,205.53 322.74,205.56 322.98,205.59 323.23,205.61 323.48,205.64 323.72,205.67 323.97,205.70 324.22,205.73 324.47,205.76 324.71,205.79 324.96,205.81 325.21,205.84 325.45,205.87 325.70,205.90 325.95,205.93 326.20,205.95 326.44,205.98 326.69,206.01 326.94,206.04 327.19,206.06 327.43,206.09 327.68,206.12 327.93,206.14 328.17,206.17 328.42,206.20 328.67,206.22 328.92,206.25 329.16,206.27 329.41,206.30 329.66,206.33 329.90,206.35 330.15,206.38 330.40,206.40 330.65,206.43 330.89,206.45 331.14,206.48 331.39,206.50 331.63,206.53 331.88,206.55 332.13,206.58 332.38,206.60 332.62,206.63 332.87,206.65 333.12,206.68 333.36,206.70 333.61,206.73 333.86,206.75 334.11,206.77 334.35,206.80 334.60,206.82" stroke="#7064cc" stroke-width="1.2"/>
</g>
<g class="tk"><text x="33.9" y="243.65" text-anchor="end">0</text><path d="M32.75 213.29V219.84M33.05 213.49L30.65 215.19" stroke="#333" stroke-width="1.1" fill="none"/><text x="29.05" y="220.34" text-anchor="end">0.</text><text x="33.9" y="197.03" text-anchor="end">0.2</text><text x="33.9" y="173.72" text-anchor="end">0.3</text><text x="33.9" y="150.41" text-anchor="end">0.4</text><text x="33.9" y="127.10" text-anchor="end">0.5</text><text x="33.9" y="103.79" text-anchor="end">0.6</text><text x="33.9" y="80.48" text-anchor="end">0.7</text><text x="33.9" y="57.17" text-anchor="end">0.8</text><text x="33.9" y="33.86" text-anchor="end">0.9</text><path d="M32.75 3.50V10.05M33.05 3.70L30.65 5.40" stroke="#333" stroke-width="1.1" fill="none"/><text x="38.00" y="252.6" text-anchor="middle">3.5</text><text x="87.43" y="252.6" text-anchor="middle">4</text><text x="136.87" y="252.6" text-anchor="middle">4.5</text><text x="186.30" y="252.6" text-anchor="middle">5</text><text x="235.73" y="252.6" text-anchor="middle">5.5</text><text x="285.17" y="252.6" text-anchor="middle">6</text><text x="334.60" y="252.6" text-anchor="middle">6.5</text></g>
<text transform="translate(10.6,212.1) rotate(-90)" font-family="Liberation Sans" font-size="13.2" letter-spacing="0.95" fill="#111" stroke="#111" stroke-width="0.12">Relative current amplitudes</text>
<text transform="translate(160.0,273.6) scale(1.12,1)" font-family="Liberation Serif" font-style="italic" font-size="15" fill="#111" stroke="#111" stroke-width="0.45">f</text>
<text x="168.2" y="273.5" font-family="Liberation Serif" font-size="15" fill="#111" stroke="#111" stroke-width="0.2">,<tspan x="174.8">GHz</tspan></text>
<rect x="278" y="11" width="52.9" height="42.4" fill="#fff" stroke="#52749c" stroke-width="1.6"/>
<text x="283.6" y="27" font-family="Liberation Serif" font-style="italic" font-size="16" fill="#111" stroke="#111" stroke-width="0.1">I<tspan font-size="10.5" dx="0.6" dy="3.2">1</tspan></text>
<text x="283.6" y="46.4" font-family="Liberation Serif" font-style="italic" font-size="16" fill="#111" stroke="#111" stroke-width="0.1">I<tspan font-size="10.5" dx="0.9" dy="3.2">2</tspan></text>
<line x1="305.2" y1="22.45" x2="319.2" y2="22.45" stroke="#2270c6" stroke-width="1.9"/>
<line x1="304.8" y1="42.1" x2="318.8" y2="42.1" stroke="#e0641e" stroke-width="1.9"/>
</svg>
</body></html>
